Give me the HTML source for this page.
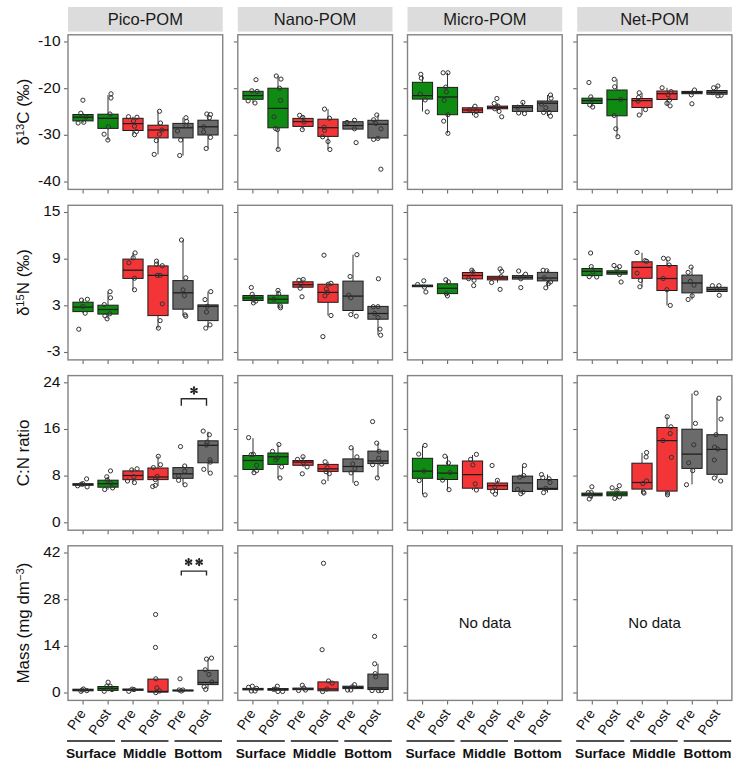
<!DOCTYPE html>
<html><head><meta charset="utf-8"><style>html,body{margin:0;padding:0;background:#fff;width:753px;height:772px;overflow:hidden}</style></head><body>
<svg width="753" height="772" viewBox="0 0 753 772" style="display:block">
<rect x="0" y="0" width="753" height="772" fill="#fff"/>
<rect x="68.0" y="7" width="154.7" height="24.6" fill="#dcdcdc"/>
<text x="145.3" y="25.4" text-anchor="middle" style="font-family:'Liberation Sans',sans-serif;font-size:16.5px" fill="#1a1a1a">Pico-POM</text>
<rect x="237.8" y="7" width="154.7" height="24.6" fill="#dcdcdc"/>
<text x="315.1" y="25.4" text-anchor="middle" style="font-family:'Liberation Sans',sans-serif;font-size:16.5px" fill="#1a1a1a">Nano-POM</text>
<rect x="407.5" y="7" width="154.7" height="24.6" fill="#dcdcdc"/>
<text x="484.9" y="25.4" text-anchor="middle" style="font-family:'Liberation Sans',sans-serif;font-size:16.5px" fill="#1a1a1a">Micro-POM</text>
<rect x="577.2" y="7" width="154.7" height="24.6" fill="#dcdcdc"/>
<text x="654.6" y="25.4" text-anchor="middle" style="font-family:'Liberation Sans',sans-serif;font-size:16.5px" fill="#1a1a1a">Net-POM</text>
<line x1="64.0" y1="42.0" x2="68.0" y2="42.0" stroke="#6a6a6a" stroke-width="1.1"/>
<line x1="64.0" y1="88.7" x2="68.0" y2="88.7" stroke="#6a6a6a" stroke-width="1.1"/>
<line x1="64.0" y1="135.3" x2="68.0" y2="135.3" stroke="#6a6a6a" stroke-width="1.1"/>
<line x1="64.0" y1="182.0" x2="68.0" y2="182.0" stroke="#6a6a6a" stroke-width="1.1"/>
<line x1="83.1" y1="189.4" x2="83.1" y2="193.4" stroke="#6a6a6a" stroke-width="1.1"/>
<line x1="108.1" y1="189.4" x2="108.1" y2="193.4" stroke="#6a6a6a" stroke-width="1.1"/>
<line x1="133.1" y1="189.4" x2="133.1" y2="193.4" stroke="#6a6a6a" stroke-width="1.1"/>
<line x1="158.1" y1="189.4" x2="158.1" y2="193.4" stroke="#6a6a6a" stroke-width="1.1"/>
<line x1="183.1" y1="189.4" x2="183.1" y2="193.4" stroke="#6a6a6a" stroke-width="1.1"/>
<line x1="208.1" y1="189.4" x2="208.1" y2="193.4" stroke="#6a6a6a" stroke-width="1.1"/>
<line x1="233.8" y1="42.0" x2="237.8" y2="42.0" stroke="#6a6a6a" stroke-width="1.1"/>
<line x1="233.8" y1="88.7" x2="237.8" y2="88.7" stroke="#6a6a6a" stroke-width="1.1"/>
<line x1="233.8" y1="135.3" x2="237.8" y2="135.3" stroke="#6a6a6a" stroke-width="1.1"/>
<line x1="233.8" y1="182.0" x2="237.8" y2="182.0" stroke="#6a6a6a" stroke-width="1.1"/>
<line x1="252.9" y1="189.4" x2="252.9" y2="193.4" stroke="#6a6a6a" stroke-width="1.1"/>
<line x1="277.9" y1="189.4" x2="277.9" y2="193.4" stroke="#6a6a6a" stroke-width="1.1"/>
<line x1="302.9" y1="189.4" x2="302.9" y2="193.4" stroke="#6a6a6a" stroke-width="1.1"/>
<line x1="327.9" y1="189.4" x2="327.9" y2="193.4" stroke="#6a6a6a" stroke-width="1.1"/>
<line x1="352.9" y1="189.4" x2="352.9" y2="193.4" stroke="#6a6a6a" stroke-width="1.1"/>
<line x1="377.9" y1="189.4" x2="377.9" y2="193.4" stroke="#6a6a6a" stroke-width="1.1"/>
<line x1="403.5" y1="42.0" x2="407.5" y2="42.0" stroke="#6a6a6a" stroke-width="1.1"/>
<line x1="403.5" y1="88.7" x2="407.5" y2="88.7" stroke="#6a6a6a" stroke-width="1.1"/>
<line x1="403.5" y1="135.3" x2="407.5" y2="135.3" stroke="#6a6a6a" stroke-width="1.1"/>
<line x1="403.5" y1="182.0" x2="407.5" y2="182.0" stroke="#6a6a6a" stroke-width="1.1"/>
<line x1="422.6" y1="189.4" x2="422.6" y2="193.4" stroke="#6a6a6a" stroke-width="1.1"/>
<line x1="447.6" y1="189.4" x2="447.6" y2="193.4" stroke="#6a6a6a" stroke-width="1.1"/>
<line x1="472.6" y1="189.4" x2="472.6" y2="193.4" stroke="#6a6a6a" stroke-width="1.1"/>
<line x1="497.6" y1="189.4" x2="497.6" y2="193.4" stroke="#6a6a6a" stroke-width="1.1"/>
<line x1="522.6" y1="189.4" x2="522.6" y2="193.4" stroke="#6a6a6a" stroke-width="1.1"/>
<line x1="547.6" y1="189.4" x2="547.6" y2="193.4" stroke="#6a6a6a" stroke-width="1.1"/>
<line x1="573.2" y1="42.0" x2="577.2" y2="42.0" stroke="#6a6a6a" stroke-width="1.1"/>
<line x1="573.2" y1="88.7" x2="577.2" y2="88.7" stroke="#6a6a6a" stroke-width="1.1"/>
<line x1="573.2" y1="135.3" x2="577.2" y2="135.3" stroke="#6a6a6a" stroke-width="1.1"/>
<line x1="573.2" y1="182.0" x2="577.2" y2="182.0" stroke="#6a6a6a" stroke-width="1.1"/>
<line x1="592.3" y1="189.4" x2="592.3" y2="193.4" stroke="#6a6a6a" stroke-width="1.1"/>
<line x1="617.3" y1="189.4" x2="617.3" y2="193.4" stroke="#6a6a6a" stroke-width="1.1"/>
<line x1="642.3" y1="189.4" x2="642.3" y2="193.4" stroke="#6a6a6a" stroke-width="1.1"/>
<line x1="667.3" y1="189.4" x2="667.3" y2="193.4" stroke="#6a6a6a" stroke-width="1.1"/>
<line x1="692.3" y1="189.4" x2="692.3" y2="193.4" stroke="#6a6a6a" stroke-width="1.1"/>
<line x1="717.3" y1="189.4" x2="717.3" y2="193.4" stroke="#6a6a6a" stroke-width="1.1"/>
<text x="60.5" y="45.9" text-anchor="end" style="font-family:'Liberation Sans',sans-serif;font-size:15.5px" fill="#111">-10</text>
<text x="60.5" y="92.6" text-anchor="end" style="font-family:'Liberation Sans',sans-serif;font-size:15.5px" fill="#111">-20</text>
<text x="60.5" y="139.2" text-anchor="end" style="font-family:'Liberation Sans',sans-serif;font-size:15.5px" fill="#111">-30</text>
<text x="60.5" y="185.9" text-anchor="end" style="font-family:'Liberation Sans',sans-serif;font-size:15.5px" fill="#111">-40</text>
<line x1="64.0" y1="212.5" x2="68.0" y2="212.5" stroke="#6a6a6a" stroke-width="1.1"/>
<line x1="64.0" y1="259.2" x2="68.0" y2="259.2" stroke="#6a6a6a" stroke-width="1.1"/>
<line x1="64.0" y1="305.8" x2="68.0" y2="305.8" stroke="#6a6a6a" stroke-width="1.1"/>
<line x1="64.0" y1="352.5" x2="68.0" y2="352.5" stroke="#6a6a6a" stroke-width="1.1"/>
<line x1="83.1" y1="359.9" x2="83.1" y2="363.9" stroke="#6a6a6a" stroke-width="1.1"/>
<line x1="108.1" y1="359.9" x2="108.1" y2="363.9" stroke="#6a6a6a" stroke-width="1.1"/>
<line x1="133.1" y1="359.9" x2="133.1" y2="363.9" stroke="#6a6a6a" stroke-width="1.1"/>
<line x1="158.1" y1="359.9" x2="158.1" y2="363.9" stroke="#6a6a6a" stroke-width="1.1"/>
<line x1="183.1" y1="359.9" x2="183.1" y2="363.9" stroke="#6a6a6a" stroke-width="1.1"/>
<line x1="208.1" y1="359.9" x2="208.1" y2="363.9" stroke="#6a6a6a" stroke-width="1.1"/>
<line x1="233.8" y1="212.5" x2="237.8" y2="212.5" stroke="#6a6a6a" stroke-width="1.1"/>
<line x1="233.8" y1="259.2" x2="237.8" y2="259.2" stroke="#6a6a6a" stroke-width="1.1"/>
<line x1="233.8" y1="305.8" x2="237.8" y2="305.8" stroke="#6a6a6a" stroke-width="1.1"/>
<line x1="233.8" y1="352.5" x2="237.8" y2="352.5" stroke="#6a6a6a" stroke-width="1.1"/>
<line x1="252.9" y1="359.9" x2="252.9" y2="363.9" stroke="#6a6a6a" stroke-width="1.1"/>
<line x1="277.9" y1="359.9" x2="277.9" y2="363.9" stroke="#6a6a6a" stroke-width="1.1"/>
<line x1="302.9" y1="359.9" x2="302.9" y2="363.9" stroke="#6a6a6a" stroke-width="1.1"/>
<line x1="327.9" y1="359.9" x2="327.9" y2="363.9" stroke="#6a6a6a" stroke-width="1.1"/>
<line x1="352.9" y1="359.9" x2="352.9" y2="363.9" stroke="#6a6a6a" stroke-width="1.1"/>
<line x1="377.9" y1="359.9" x2="377.9" y2="363.9" stroke="#6a6a6a" stroke-width="1.1"/>
<line x1="403.5" y1="212.5" x2="407.5" y2="212.5" stroke="#6a6a6a" stroke-width="1.1"/>
<line x1="403.5" y1="259.2" x2="407.5" y2="259.2" stroke="#6a6a6a" stroke-width="1.1"/>
<line x1="403.5" y1="305.8" x2="407.5" y2="305.8" stroke="#6a6a6a" stroke-width="1.1"/>
<line x1="403.5" y1="352.5" x2="407.5" y2="352.5" stroke="#6a6a6a" stroke-width="1.1"/>
<line x1="422.6" y1="359.9" x2="422.6" y2="363.9" stroke="#6a6a6a" stroke-width="1.1"/>
<line x1="447.6" y1="359.9" x2="447.6" y2="363.9" stroke="#6a6a6a" stroke-width="1.1"/>
<line x1="472.6" y1="359.9" x2="472.6" y2="363.9" stroke="#6a6a6a" stroke-width="1.1"/>
<line x1="497.6" y1="359.9" x2="497.6" y2="363.9" stroke="#6a6a6a" stroke-width="1.1"/>
<line x1="522.6" y1="359.9" x2="522.6" y2="363.9" stroke="#6a6a6a" stroke-width="1.1"/>
<line x1="547.6" y1="359.9" x2="547.6" y2="363.9" stroke="#6a6a6a" stroke-width="1.1"/>
<line x1="573.2" y1="212.5" x2="577.2" y2="212.5" stroke="#6a6a6a" stroke-width="1.1"/>
<line x1="573.2" y1="259.2" x2="577.2" y2="259.2" stroke="#6a6a6a" stroke-width="1.1"/>
<line x1="573.2" y1="305.8" x2="577.2" y2="305.8" stroke="#6a6a6a" stroke-width="1.1"/>
<line x1="573.2" y1="352.5" x2="577.2" y2="352.5" stroke="#6a6a6a" stroke-width="1.1"/>
<line x1="592.3" y1="359.9" x2="592.3" y2="363.9" stroke="#6a6a6a" stroke-width="1.1"/>
<line x1="617.3" y1="359.9" x2="617.3" y2="363.9" stroke="#6a6a6a" stroke-width="1.1"/>
<line x1="642.3" y1="359.9" x2="642.3" y2="363.9" stroke="#6a6a6a" stroke-width="1.1"/>
<line x1="667.3" y1="359.9" x2="667.3" y2="363.9" stroke="#6a6a6a" stroke-width="1.1"/>
<line x1="692.3" y1="359.9" x2="692.3" y2="363.9" stroke="#6a6a6a" stroke-width="1.1"/>
<line x1="717.3" y1="359.9" x2="717.3" y2="363.9" stroke="#6a6a6a" stroke-width="1.1"/>
<text x="60.5" y="216.4" text-anchor="end" style="font-family:'Liberation Sans',sans-serif;font-size:15.5px" fill="#111">15</text>
<text x="60.5" y="263.1" text-anchor="end" style="font-family:'Liberation Sans',sans-serif;font-size:15.5px" fill="#111">9</text>
<text x="60.5" y="309.7" text-anchor="end" style="font-family:'Liberation Sans',sans-serif;font-size:15.5px" fill="#111">3</text>
<text x="60.5" y="356.4" text-anchor="end" style="font-family:'Liberation Sans',sans-serif;font-size:15.5px" fill="#111">-3</text>
<line x1="64.0" y1="382.8" x2="68.0" y2="382.8" stroke="#6a6a6a" stroke-width="1.1"/>
<line x1="64.0" y1="429.5" x2="68.0" y2="429.5" stroke="#6a6a6a" stroke-width="1.1"/>
<line x1="64.0" y1="476.1" x2="68.0" y2="476.1" stroke="#6a6a6a" stroke-width="1.1"/>
<line x1="64.0" y1="522.8" x2="68.0" y2="522.8" stroke="#6a6a6a" stroke-width="1.1"/>
<line x1="83.1" y1="530.2" x2="83.1" y2="534.2" stroke="#6a6a6a" stroke-width="1.1"/>
<line x1="108.1" y1="530.2" x2="108.1" y2="534.2" stroke="#6a6a6a" stroke-width="1.1"/>
<line x1="133.1" y1="530.2" x2="133.1" y2="534.2" stroke="#6a6a6a" stroke-width="1.1"/>
<line x1="158.1" y1="530.2" x2="158.1" y2="534.2" stroke="#6a6a6a" stroke-width="1.1"/>
<line x1="183.1" y1="530.2" x2="183.1" y2="534.2" stroke="#6a6a6a" stroke-width="1.1"/>
<line x1="208.1" y1="530.2" x2="208.1" y2="534.2" stroke="#6a6a6a" stroke-width="1.1"/>
<line x1="233.8" y1="382.8" x2="237.8" y2="382.8" stroke="#6a6a6a" stroke-width="1.1"/>
<line x1="233.8" y1="429.5" x2="237.8" y2="429.5" stroke="#6a6a6a" stroke-width="1.1"/>
<line x1="233.8" y1="476.1" x2="237.8" y2="476.1" stroke="#6a6a6a" stroke-width="1.1"/>
<line x1="233.8" y1="522.8" x2="237.8" y2="522.8" stroke="#6a6a6a" stroke-width="1.1"/>
<line x1="252.9" y1="530.2" x2="252.9" y2="534.2" stroke="#6a6a6a" stroke-width="1.1"/>
<line x1="277.9" y1="530.2" x2="277.9" y2="534.2" stroke="#6a6a6a" stroke-width="1.1"/>
<line x1="302.9" y1="530.2" x2="302.9" y2="534.2" stroke="#6a6a6a" stroke-width="1.1"/>
<line x1="327.9" y1="530.2" x2="327.9" y2="534.2" stroke="#6a6a6a" stroke-width="1.1"/>
<line x1="352.9" y1="530.2" x2="352.9" y2="534.2" stroke="#6a6a6a" stroke-width="1.1"/>
<line x1="377.9" y1="530.2" x2="377.9" y2="534.2" stroke="#6a6a6a" stroke-width="1.1"/>
<line x1="403.5" y1="382.8" x2="407.5" y2="382.8" stroke="#6a6a6a" stroke-width="1.1"/>
<line x1="403.5" y1="429.5" x2="407.5" y2="429.5" stroke="#6a6a6a" stroke-width="1.1"/>
<line x1="403.5" y1="476.1" x2="407.5" y2="476.1" stroke="#6a6a6a" stroke-width="1.1"/>
<line x1="403.5" y1="522.8" x2="407.5" y2="522.8" stroke="#6a6a6a" stroke-width="1.1"/>
<line x1="422.6" y1="530.2" x2="422.6" y2="534.2" stroke="#6a6a6a" stroke-width="1.1"/>
<line x1="447.6" y1="530.2" x2="447.6" y2="534.2" stroke="#6a6a6a" stroke-width="1.1"/>
<line x1="472.6" y1="530.2" x2="472.6" y2="534.2" stroke="#6a6a6a" stroke-width="1.1"/>
<line x1="497.6" y1="530.2" x2="497.6" y2="534.2" stroke="#6a6a6a" stroke-width="1.1"/>
<line x1="522.6" y1="530.2" x2="522.6" y2="534.2" stroke="#6a6a6a" stroke-width="1.1"/>
<line x1="547.6" y1="530.2" x2="547.6" y2="534.2" stroke="#6a6a6a" stroke-width="1.1"/>
<line x1="573.2" y1="382.8" x2="577.2" y2="382.8" stroke="#6a6a6a" stroke-width="1.1"/>
<line x1="573.2" y1="429.5" x2="577.2" y2="429.5" stroke="#6a6a6a" stroke-width="1.1"/>
<line x1="573.2" y1="476.1" x2="577.2" y2="476.1" stroke="#6a6a6a" stroke-width="1.1"/>
<line x1="573.2" y1="522.8" x2="577.2" y2="522.8" stroke="#6a6a6a" stroke-width="1.1"/>
<line x1="592.3" y1="530.2" x2="592.3" y2="534.2" stroke="#6a6a6a" stroke-width="1.1"/>
<line x1="617.3" y1="530.2" x2="617.3" y2="534.2" stroke="#6a6a6a" stroke-width="1.1"/>
<line x1="642.3" y1="530.2" x2="642.3" y2="534.2" stroke="#6a6a6a" stroke-width="1.1"/>
<line x1="667.3" y1="530.2" x2="667.3" y2="534.2" stroke="#6a6a6a" stroke-width="1.1"/>
<line x1="692.3" y1="530.2" x2="692.3" y2="534.2" stroke="#6a6a6a" stroke-width="1.1"/>
<line x1="717.3" y1="530.2" x2="717.3" y2="534.2" stroke="#6a6a6a" stroke-width="1.1"/>
<text x="60.5" y="386.7" text-anchor="end" style="font-family:'Liberation Sans',sans-serif;font-size:15.5px" fill="#111">24</text>
<text x="60.5" y="433.4" text-anchor="end" style="font-family:'Liberation Sans',sans-serif;font-size:15.5px" fill="#111">16</text>
<text x="60.5" y="480.0" text-anchor="end" style="font-family:'Liberation Sans',sans-serif;font-size:15.5px" fill="#111">8</text>
<text x="60.5" y="526.7" text-anchor="end" style="font-family:'Liberation Sans',sans-serif;font-size:15.5px" fill="#111">0</text>
<line x1="64.0" y1="553.0" x2="68.0" y2="553.0" stroke="#6a6a6a" stroke-width="1.1"/>
<line x1="64.0" y1="599.7" x2="68.0" y2="599.7" stroke="#6a6a6a" stroke-width="1.1"/>
<line x1="64.0" y1="646.3" x2="68.0" y2="646.3" stroke="#6a6a6a" stroke-width="1.1"/>
<line x1="64.0" y1="693.0" x2="68.0" y2="693.0" stroke="#6a6a6a" stroke-width="1.1"/>
<line x1="83.1" y1="700.4" x2="83.1" y2="704.4" stroke="#6a6a6a" stroke-width="1.1"/>
<line x1="108.1" y1="700.4" x2="108.1" y2="704.4" stroke="#6a6a6a" stroke-width="1.1"/>
<line x1="133.1" y1="700.4" x2="133.1" y2="704.4" stroke="#6a6a6a" stroke-width="1.1"/>
<line x1="158.1" y1="700.4" x2="158.1" y2="704.4" stroke="#6a6a6a" stroke-width="1.1"/>
<line x1="183.1" y1="700.4" x2="183.1" y2="704.4" stroke="#6a6a6a" stroke-width="1.1"/>
<line x1="208.1" y1="700.4" x2="208.1" y2="704.4" stroke="#6a6a6a" stroke-width="1.1"/>
<line x1="233.8" y1="553.0" x2="237.8" y2="553.0" stroke="#6a6a6a" stroke-width="1.1"/>
<line x1="233.8" y1="599.7" x2="237.8" y2="599.7" stroke="#6a6a6a" stroke-width="1.1"/>
<line x1="233.8" y1="646.3" x2="237.8" y2="646.3" stroke="#6a6a6a" stroke-width="1.1"/>
<line x1="233.8" y1="693.0" x2="237.8" y2="693.0" stroke="#6a6a6a" stroke-width="1.1"/>
<line x1="252.9" y1="700.4" x2="252.9" y2="704.4" stroke="#6a6a6a" stroke-width="1.1"/>
<line x1="277.9" y1="700.4" x2="277.9" y2="704.4" stroke="#6a6a6a" stroke-width="1.1"/>
<line x1="302.9" y1="700.4" x2="302.9" y2="704.4" stroke="#6a6a6a" stroke-width="1.1"/>
<line x1="327.9" y1="700.4" x2="327.9" y2="704.4" stroke="#6a6a6a" stroke-width="1.1"/>
<line x1="352.9" y1="700.4" x2="352.9" y2="704.4" stroke="#6a6a6a" stroke-width="1.1"/>
<line x1="377.9" y1="700.4" x2="377.9" y2="704.4" stroke="#6a6a6a" stroke-width="1.1"/>
<line x1="403.5" y1="553.0" x2="407.5" y2="553.0" stroke="#6a6a6a" stroke-width="1.1"/>
<line x1="403.5" y1="599.7" x2="407.5" y2="599.7" stroke="#6a6a6a" stroke-width="1.1"/>
<line x1="403.5" y1="646.3" x2="407.5" y2="646.3" stroke="#6a6a6a" stroke-width="1.1"/>
<line x1="403.5" y1="693.0" x2="407.5" y2="693.0" stroke="#6a6a6a" stroke-width="1.1"/>
<line x1="422.6" y1="700.4" x2="422.6" y2="704.4" stroke="#6a6a6a" stroke-width="1.1"/>
<line x1="447.6" y1="700.4" x2="447.6" y2="704.4" stroke="#6a6a6a" stroke-width="1.1"/>
<line x1="472.6" y1="700.4" x2="472.6" y2="704.4" stroke="#6a6a6a" stroke-width="1.1"/>
<line x1="497.6" y1="700.4" x2="497.6" y2="704.4" stroke="#6a6a6a" stroke-width="1.1"/>
<line x1="522.6" y1="700.4" x2="522.6" y2="704.4" stroke="#6a6a6a" stroke-width="1.1"/>
<line x1="547.6" y1="700.4" x2="547.6" y2="704.4" stroke="#6a6a6a" stroke-width="1.1"/>
<line x1="573.2" y1="553.0" x2="577.2" y2="553.0" stroke="#6a6a6a" stroke-width="1.1"/>
<line x1="573.2" y1="599.7" x2="577.2" y2="599.7" stroke="#6a6a6a" stroke-width="1.1"/>
<line x1="573.2" y1="646.3" x2="577.2" y2="646.3" stroke="#6a6a6a" stroke-width="1.1"/>
<line x1="573.2" y1="693.0" x2="577.2" y2="693.0" stroke="#6a6a6a" stroke-width="1.1"/>
<line x1="592.3" y1="700.4" x2="592.3" y2="704.4" stroke="#6a6a6a" stroke-width="1.1"/>
<line x1="617.3" y1="700.4" x2="617.3" y2="704.4" stroke="#6a6a6a" stroke-width="1.1"/>
<line x1="642.3" y1="700.4" x2="642.3" y2="704.4" stroke="#6a6a6a" stroke-width="1.1"/>
<line x1="667.3" y1="700.4" x2="667.3" y2="704.4" stroke="#6a6a6a" stroke-width="1.1"/>
<line x1="692.3" y1="700.4" x2="692.3" y2="704.4" stroke="#6a6a6a" stroke-width="1.1"/>
<line x1="717.3" y1="700.4" x2="717.3" y2="704.4" stroke="#6a6a6a" stroke-width="1.1"/>
<text x="60.5" y="556.9" text-anchor="end" style="font-family:'Liberation Sans',sans-serif;font-size:15.5px" fill="#111">42</text>
<text x="60.5" y="603.6" text-anchor="end" style="font-family:'Liberation Sans',sans-serif;font-size:15.5px" fill="#111">28</text>
<text x="60.5" y="650.2" text-anchor="end" style="font-family:'Liberation Sans',sans-serif;font-size:15.5px" fill="#111">14</text>
<text x="60.5" y="696.9" text-anchor="end" style="font-family:'Liberation Sans',sans-serif;font-size:15.5px" fill="#111">0</text>
<line x1="83" y1="113.2" x2="83" y2="114.5" stroke="#333" stroke-width="1"/>
<line x1="83" y1="120.9" x2="83" y2="123" stroke="#333" stroke-width="1"/>
<rect x="72.9" y="114.5" width="20.2" height="6.4" fill="#0f8a12" stroke="#1c1c1c" stroke-width="1"/>
<line x1="72.9" y1="117.2" x2="93.1" y2="117.2" stroke="#1c1c1c" stroke-width="1.25"/>
<circle cx="82.9" cy="100.2" r="2.1" fill="none" stroke="#333" stroke-width="1"/>
<circle cx="80.8" cy="113.2" r="2.1" fill="none" stroke="#333" stroke-width="1"/>
<circle cx="78.1" cy="123" r="2.1" fill="none" stroke="#333" stroke-width="1"/>
<circle cx="83.7" cy="122.3" r="2.1" fill="none" stroke="#333" stroke-width="1"/>
<circle cx="86" cy="117" r="2.1" fill="none" stroke="#333" stroke-width="1"/>
<line x1="108" y1="95" x2="108" y2="114.2" stroke="#333" stroke-width="1"/>
<line x1="108" y1="128.4" x2="108" y2="140" stroke="#333" stroke-width="1"/>
<rect x="97.9" y="114.2" width="20.2" height="14.2" fill="#0f8a12" stroke="#1c1c1c" stroke-width="1"/>
<line x1="97.9" y1="118.3" x2="118.1" y2="118.3" stroke="#1c1c1c" stroke-width="1.25"/>
<circle cx="111" cy="93.8" r="2.1" fill="none" stroke="#333" stroke-width="1"/>
<circle cx="111" cy="98" r="2.1" fill="none" stroke="#333" stroke-width="1"/>
<circle cx="104.1" cy="134.2" r="2.1" fill="none" stroke="#333" stroke-width="1"/>
<circle cx="107.9" cy="140" r="2.1" fill="none" stroke="#333" stroke-width="1"/>
<circle cx="110" cy="114" r="2.1" fill="none" stroke="#333" stroke-width="1"/>
<circle cx="108.4" cy="126.8" r="2.1" fill="none" stroke="#333" stroke-width="1"/>
<line x1="133" y1="116.7" x2="133" y2="118.3" stroke="#333" stroke-width="1"/>
<line x1="133" y1="130.5" x2="133" y2="134.7" stroke="#333" stroke-width="1"/>
<rect x="122.9" y="118.3" width="20.2" height="12.2" fill="#f43538" stroke="#1c1c1c" stroke-width="1"/>
<line x1="122.9" y1="123.6" x2="143.1" y2="123.6" stroke="#1c1c1c" stroke-width="1.25"/>
<circle cx="128.5" cy="116.7" r="2.1" fill="none" stroke="#333" stroke-width="1"/>
<circle cx="137" cy="117.2" r="2.1" fill="none" stroke="#333" stroke-width="1"/>
<circle cx="134.5" cy="126.2" r="2.1" fill="none" stroke="#333" stroke-width="1"/>
<circle cx="136.5" cy="131.5" r="2.1" fill="none" stroke="#333" stroke-width="1"/>
<circle cx="134.5" cy="134.7" r="2.1" fill="none" stroke="#333" stroke-width="1"/>
<circle cx="133.5" cy="121" r="2.1" fill="none" stroke="#333" stroke-width="1"/>
<line x1="158" y1="111.3" x2="158" y2="125.2" stroke="#333" stroke-width="1"/>
<line x1="158" y1="137.9" x2="158" y2="154.4" stroke="#333" stroke-width="1"/>
<rect x="147.9" y="125.2" width="20.2" height="12.7" fill="#f43538" stroke="#1c1c1c" stroke-width="1"/>
<line x1="147.9" y1="130" x2="168.1" y2="130" stroke="#1c1c1c" stroke-width="1.25"/>
<circle cx="159.5" cy="111.3" r="2.1" fill="none" stroke="#333" stroke-width="1"/>
<circle cx="160.5" cy="123" r="2.1" fill="none" stroke="#333" stroke-width="1"/>
<circle cx="156.3" cy="140.6" r="2.1" fill="none" stroke="#333" stroke-width="1"/>
<circle cx="154.2" cy="154.4" r="2.1" fill="none" stroke="#333" stroke-width="1"/>
<circle cx="162" cy="130" r="2.1" fill="none" stroke="#333" stroke-width="1"/>
<circle cx="159.5" cy="134.2" r="2.1" fill="none" stroke="#333" stroke-width="1"/>
<line x1="183" y1="117.7" x2="183" y2="123.4" stroke="#333" stroke-width="1"/>
<line x1="183" y1="137.9" x2="183" y2="155.5" stroke="#333" stroke-width="1"/>
<rect x="172.9" y="123.4" width="20.2" height="14.5" fill="#6b6b6b" stroke="#1c1c1c" stroke-width="1"/>
<line x1="172.9" y1="127.8" x2="193.1" y2="127.8" stroke="#1c1c1c" stroke-width="1.25"/>
<circle cx="186" cy="117.7" r="2.1" fill="none" stroke="#333" stroke-width="1"/>
<circle cx="186.6" cy="121.4" r="2.1" fill="none" stroke="#333" stroke-width="1"/>
<circle cx="177.5" cy="131" r="2.1" fill="none" stroke="#333" stroke-width="1"/>
<circle cx="180.7" cy="140" r="2.1" fill="none" stroke="#333" stroke-width="1"/>
<circle cx="179.7" cy="155.5" r="2.1" fill="none" stroke="#333" stroke-width="1"/>
<circle cx="186" cy="125.7" r="2.1" fill="none" stroke="#333" stroke-width="1"/>
<line x1="208" y1="114" x2="208" y2="120.2" stroke="#333" stroke-width="1"/>
<line x1="208" y1="135" x2="208" y2="148.5" stroke="#333" stroke-width="1"/>
<rect x="197.9" y="120.2" width="20.2" height="14.8" fill="#6b6b6b" stroke="#1c1c1c" stroke-width="1"/>
<line x1="197.9" y1="126.8" x2="218.1" y2="126.8" stroke="#1c1c1c" stroke-width="1.25"/>
<circle cx="206.8" cy="114" r="2.1" fill="none" stroke="#333" stroke-width="1"/>
<circle cx="210.5" cy="114.5" r="2.1" fill="none" stroke="#333" stroke-width="1"/>
<circle cx="210.5" cy="137.4" r="2.1" fill="none" stroke="#333" stroke-width="1"/>
<circle cx="206.2" cy="148.5" r="2.1" fill="none" stroke="#333" stroke-width="1"/>
<circle cx="203.6" cy="126.8" r="2.1" fill="none" stroke="#333" stroke-width="1"/>
<circle cx="203.6" cy="132" r="2.1" fill="none" stroke="#333" stroke-width="1"/>
<circle cx="209.4" cy="117.7" r="2.1" fill="none" stroke="#333" stroke-width="1"/>
<line x1="253" y1="90.8" x2="253" y2="91.3" stroke="#333" stroke-width="1"/>
<line x1="253" y1="99.3" x2="253" y2="103" stroke="#333" stroke-width="1"/>
<rect x="242.9" y="91.3" width="20.2" height="8.0" fill="#0f8a12" stroke="#1c1c1c" stroke-width="1"/>
<line x1="242.9" y1="95.6" x2="263.1" y2="95.6" stroke="#1c1c1c" stroke-width="1.25"/>
<circle cx="256" cy="79.7" r="2.1" fill="none" stroke="#333" stroke-width="1"/>
<circle cx="251.8" cy="90.8" r="2.1" fill="none" stroke="#333" stroke-width="1"/>
<circle cx="248.1" cy="100.9" r="2.1" fill="none" stroke="#333" stroke-width="1"/>
<circle cx="255" cy="103" r="2.1" fill="none" stroke="#333" stroke-width="1"/>
<circle cx="257.1" cy="91.4" r="2.1" fill="none" stroke="#333" stroke-width="1"/>
<line x1="278" y1="76" x2="278" y2="88.2" stroke="#333" stroke-width="1"/>
<line x1="278" y1="127.8" x2="278" y2="149.4" stroke="#333" stroke-width="1"/>
<rect x="267.9" y="88.2" width="20.2" height="39.6" fill="#0f8a12" stroke="#1c1c1c" stroke-width="1"/>
<line x1="267.9" y1="108.4" x2="288.1" y2="108.4" stroke="#1c1c1c" stroke-width="1.25"/>
<circle cx="276.3" cy="76" r="2.1" fill="none" stroke="#333" stroke-width="1"/>
<circle cx="281" cy="79.1" r="2.1" fill="none" stroke="#333" stroke-width="1"/>
<circle cx="279.5" cy="88.2" r="2.1" fill="none" stroke="#333" stroke-width="1"/>
<circle cx="280.5" cy="100.4" r="2.1" fill="none" stroke="#333" stroke-width="1"/>
<circle cx="274" cy="116.9" r="2.1" fill="none" stroke="#333" stroke-width="1"/>
<circle cx="275.5" cy="128.5" r="2.1" fill="none" stroke="#333" stroke-width="1"/>
<circle cx="277.5" cy="129.6" r="2.1" fill="none" stroke="#333" stroke-width="1"/>
<circle cx="278.2" cy="149.4" r="2.1" fill="none" stroke="#333" stroke-width="1"/>
<line x1="303" y1="115.3" x2="303" y2="118.4" stroke="#333" stroke-width="1"/>
<line x1="303" y1="126.4" x2="303" y2="129.6" stroke="#333" stroke-width="1"/>
<rect x="292.9" y="118.4" width="20.2" height="8.0" fill="#f43538" stroke="#1c1c1c" stroke-width="1"/>
<line x1="292.9" y1="121.6" x2="313.1" y2="121.6" stroke="#1c1c1c" stroke-width="1.25"/>
<circle cx="299.6" cy="115.3" r="2.1" fill="none" stroke="#333" stroke-width="1"/>
<circle cx="302.8" cy="117.4" r="2.1" fill="none" stroke="#333" stroke-width="1"/>
<circle cx="302.3" cy="129.6" r="2.1" fill="none" stroke="#333" stroke-width="1"/>
<circle cx="304" cy="122" r="2.1" fill="none" stroke="#333" stroke-width="1"/>
<line x1="328" y1="109.1" x2="328" y2="119.2" stroke="#333" stroke-width="1"/>
<line x1="328" y1="136.4" x2="328" y2="149.5" stroke="#333" stroke-width="1"/>
<rect x="317.9" y="119.2" width="20.2" height="17.2" fill="#f43538" stroke="#1c1c1c" stroke-width="1"/>
<line x1="317.9" y1="127.7" x2="338.1" y2="127.7" stroke="#1c1c1c" stroke-width="1.25"/>
<circle cx="324.5" cy="109.1" r="2.1" fill="none" stroke="#333" stroke-width="1"/>
<circle cx="329.5" cy="118.2" r="2.1" fill="none" stroke="#333" stroke-width="1"/>
<circle cx="324.2" cy="127.2" r="2.1" fill="none" stroke="#333" stroke-width="1"/>
<circle cx="324.5" cy="130.4" r="2.1" fill="none" stroke="#333" stroke-width="1"/>
<circle cx="322.6" cy="136.8" r="2.1" fill="none" stroke="#333" stroke-width="1"/>
<circle cx="328" cy="141.5" r="2.1" fill="none" stroke="#333" stroke-width="1"/>
<circle cx="329.9" cy="149.5" r="2.1" fill="none" stroke="#333" stroke-width="1"/>
<line x1="353" y1="120.3" x2="353" y2="121.7" stroke="#333" stroke-width="1"/>
<rect x="342.9" y="121.7" width="20.2" height="7.4" fill="#6b6b6b" stroke="#1c1c1c" stroke-width="1"/>
<line x1="342.9" y1="125.6" x2="363.1" y2="125.6" stroke="#1c1c1c" stroke-width="1.25"/>
<circle cx="347" cy="122.4" r="2.1" fill="none" stroke="#333" stroke-width="1"/>
<circle cx="354.5" cy="120.3" r="2.1" fill="none" stroke="#333" stroke-width="1"/>
<circle cx="354.5" cy="128.8" r="2.1" fill="none" stroke="#333" stroke-width="1"/>
<circle cx="356.1" cy="142.6" r="2.1" fill="none" stroke="#333" stroke-width="1"/>
<line x1="378" y1="115" x2="378" y2="120.3" stroke="#333" stroke-width="1"/>
<line x1="378" y1="138" x2="378" y2="139.4" stroke="#333" stroke-width="1"/>
<rect x="367.9" y="120.3" width="20.2" height="17.7" fill="#6b6b6b" stroke="#1c1c1c" stroke-width="1"/>
<line x1="367.9" y1="124.2" x2="388.1" y2="124.2" stroke="#1c1c1c" stroke-width="1.25"/>
<circle cx="376.8" cy="115" r="2.1" fill="none" stroke="#333" stroke-width="1"/>
<circle cx="373.6" cy="119.8" r="2.1" fill="none" stroke="#333" stroke-width="1"/>
<circle cx="375.8" cy="123.5" r="2.1" fill="none" stroke="#333" stroke-width="1"/>
<circle cx="381" cy="128.8" r="2.1" fill="none" stroke="#333" stroke-width="1"/>
<circle cx="373.6" cy="139.4" r="2.1" fill="none" stroke="#333" stroke-width="1"/>
<circle cx="377.9" cy="138.4" r="2.1" fill="none" stroke="#333" stroke-width="1"/>
<circle cx="380.9" cy="169.2" r="2.1" fill="none" stroke="#333" stroke-width="1"/>
<line x1="422.5" y1="76" x2="422.5" y2="82.3" stroke="#333" stroke-width="1"/>
<line x1="422.5" y1="99.1" x2="422.5" y2="111.5" stroke="#333" stroke-width="1"/>
<rect x="412.4" y="82.3" width="20.2" height="16.8" fill="#0f8a12" stroke="#1c1c1c" stroke-width="1"/>
<line x1="412.4" y1="95.6" x2="432.6" y2="95.6" stroke="#1c1c1c" stroke-width="1.25"/>
<circle cx="420.8" cy="74.3" r="2.1" fill="none" stroke="#333" stroke-width="1"/>
<circle cx="421.3" cy="78.1" r="2.1" fill="none" stroke="#333" stroke-width="1"/>
<circle cx="420.3" cy="94" r="2.1" fill="none" stroke="#333" stroke-width="1"/>
<circle cx="425.1" cy="99.9" r="2.1" fill="none" stroke="#333" stroke-width="1"/>
<circle cx="427.2" cy="111.9" r="2.1" fill="none" stroke="#333" stroke-width="1"/>
<line x1="447.5" y1="72.8" x2="447.5" y2="87.4" stroke="#333" stroke-width="1"/>
<line x1="447.5" y1="114.7" x2="447.5" y2="133.3" stroke="#333" stroke-width="1"/>
<rect x="437.4" y="87.4" width="20.2" height="27.3" fill="#0f8a12" stroke="#1c1c1c" stroke-width="1"/>
<line x1="437.4" y1="97" x2="457.6" y2="97" stroke="#1c1c1c" stroke-width="1.25"/>
<circle cx="443.1" cy="72.8" r="2.1" fill="none" stroke="#333" stroke-width="1"/>
<circle cx="447.9" cy="72.8" r="2.1" fill="none" stroke="#333" stroke-width="1"/>
<circle cx="445.8" cy="87.1" r="2.1" fill="none" stroke="#333" stroke-width="1"/>
<circle cx="446.3" cy="91.9" r="2.1" fill="none" stroke="#333" stroke-width="1"/>
<circle cx="444.2" cy="100.4" r="2.1" fill="none" stroke="#333" stroke-width="1"/>
<circle cx="447.9" cy="114.7" r="2.1" fill="none" stroke="#333" stroke-width="1"/>
<circle cx="443.7" cy="121.1" r="2.1" fill="none" stroke="#333" stroke-width="1"/>
<circle cx="447.9" cy="133.3" r="2.1" fill="none" stroke="#333" stroke-width="1"/>
<line x1="472.5" y1="106.2" x2="472.5" y2="107.8" stroke="#333" stroke-width="1"/>
<line x1="472.5" y1="112.6" x2="472.5" y2="115.3" stroke="#333" stroke-width="1"/>
<rect x="462.4" y="107.8" width="20.2" height="4.8" fill="#f43538" stroke="#1c1c1c" stroke-width="1"/>
<line x1="462.4" y1="110" x2="482.6" y2="110" stroke="#1c1c1c" stroke-width="1.25"/>
<circle cx="475" cy="106.2" r="2.1" fill="none" stroke="#333" stroke-width="1"/>
<circle cx="476.6" cy="111" r="2.1" fill="none" stroke="#333" stroke-width="1"/>
<circle cx="476.1" cy="115.3" r="2.1" fill="none" stroke="#333" stroke-width="1"/>
<circle cx="469.7" cy="110" r="2.1" fill="none" stroke="#333" stroke-width="1"/>
<line x1="497.5" y1="103.5" x2="497.5" y2="106.1" stroke="#333" stroke-width="1"/>
<line x1="497.5" y1="108.8" x2="497.5" y2="111.4" stroke="#333" stroke-width="1"/>
<rect x="487.4" y="106.1" width="20.2" height="2.7" fill="#f43538" stroke="#1c1c1c" stroke-width="1"/>
<line x1="487.4" y1="107.5" x2="507.6" y2="107.5" stroke="#1c1c1c" stroke-width="1.25"/>
<circle cx="496.9" cy="98.5" r="2.1" fill="none" stroke="#333" stroke-width="1"/>
<circle cx="494.2" cy="103.5" r="2.1" fill="none" stroke="#333" stroke-width="1"/>
<circle cx="494.8" cy="108.8" r="2.1" fill="none" stroke="#333" stroke-width="1"/>
<circle cx="499" cy="111.4" r="2.1" fill="none" stroke="#333" stroke-width="1"/>
<circle cx="501.7" cy="116.8" r="2.1" fill="none" stroke="#333" stroke-width="1"/>
<circle cx="498" cy="106.1" r="2.1" fill="none" stroke="#333" stroke-width="1"/>
<line x1="522.5" y1="102.4" x2="522.5" y2="105.6" stroke="#333" stroke-width="1"/>
<line x1="522.5" y1="111.4" x2="522.5" y2="113.6" stroke="#333" stroke-width="1"/>
<rect x="512.4" y="105.6" width="20.2" height="5.8" fill="#6b6b6b" stroke="#1c1c1c" stroke-width="1"/>
<line x1="512.4" y1="107.4" x2="532.6" y2="107.4" stroke="#1c1c1c" stroke-width="1.25"/>
<circle cx="522.9" cy="102.4" r="2.1" fill="none" stroke="#333" stroke-width="1"/>
<circle cx="518.7" cy="113" r="2.1" fill="none" stroke="#333" stroke-width="1"/>
<circle cx="524.5" cy="113.6" r="2.1" fill="none" stroke="#333" stroke-width="1"/>
<circle cx="517.6" cy="107.2" r="2.1" fill="none" stroke="#333" stroke-width="1"/>
<line x1="547.5" y1="95" x2="547.5" y2="101" stroke="#333" stroke-width="1"/>
<line x1="547.5" y1="111.4" x2="547.5" y2="116.2" stroke="#333" stroke-width="1"/>
<rect x="537.4" y="101.0" width="20.2" height="10.4" fill="#6b6b6b" stroke="#1c1c1c" stroke-width="1"/>
<line x1="537.4" y1="103.2" x2="557.6" y2="103.2" stroke="#1c1c1c" stroke-width="1.25"/>
<circle cx="550.5" cy="95" r="2.1" fill="none" stroke="#333" stroke-width="1"/>
<circle cx="551.1" cy="98.2" r="2.1" fill="none" stroke="#333" stroke-width="1"/>
<circle cx="543.6" cy="112.5" r="2.1" fill="none" stroke="#333" stroke-width="1"/>
<circle cx="549" cy="112.5" r="2.1" fill="none" stroke="#333" stroke-width="1"/>
<circle cx="550.5" cy="116.2" r="2.1" fill="none" stroke="#333" stroke-width="1"/>
<circle cx="541.5" cy="104" r="2.1" fill="none" stroke="#333" stroke-width="1"/>
<circle cx="545.8" cy="107.7" r="2.1" fill="none" stroke="#333" stroke-width="1"/>
<line x1="592" y1="96.9" x2="592" y2="98.2" stroke="#333" stroke-width="1"/>
<line x1="592" y1="103.5" x2="592" y2="107" stroke="#333" stroke-width="1"/>
<rect x="581.9" y="98.2" width="20.2" height="5.3" fill="#0f8a12" stroke="#1c1c1c" stroke-width="1"/>
<line x1="581.9" y1="100.6" x2="602.1" y2="100.6" stroke="#1c1c1c" stroke-width="1.25"/>
<circle cx="588.9" cy="82.5" r="2.1" fill="none" stroke="#333" stroke-width="1"/>
<circle cx="590.8" cy="96.9" r="2.1" fill="none" stroke="#333" stroke-width="1"/>
<circle cx="589.8" cy="104.9" r="2.1" fill="none" stroke="#333" stroke-width="1"/>
<circle cx="592.7" cy="107" r="2.1" fill="none" stroke="#333" stroke-width="1"/>
<circle cx="591.9" cy="100.1" r="2.1" fill="none" stroke="#333" stroke-width="1"/>
<line x1="617" y1="79.3" x2="617" y2="90" stroke="#333" stroke-width="1"/>
<line x1="617" y1="115.8" x2="617" y2="136.7" stroke="#333" stroke-width="1"/>
<rect x="606.9" y="90.0" width="20.2" height="25.8" fill="#0f8a12" stroke="#1c1c1c" stroke-width="1"/>
<line x1="606.9" y1="99.5" x2="627.1" y2="99.5" stroke="#1c1c1c" stroke-width="1.25"/>
<circle cx="614.2" cy="79.3" r="2.1" fill="none" stroke="#333" stroke-width="1"/>
<circle cx="614.7" cy="86.8" r="2.1" fill="none" stroke="#333" stroke-width="1"/>
<circle cx="620.6" cy="99.5" r="2.1" fill="none" stroke="#333" stroke-width="1"/>
<circle cx="614.2" cy="115.5" r="2.1" fill="none" stroke="#333" stroke-width="1"/>
<circle cx="615.8" cy="128.8" r="2.1" fill="none" stroke="#333" stroke-width="1"/>
<circle cx="617.9" cy="136.7" r="2.1" fill="none" stroke="#333" stroke-width="1"/>
<line x1="642" y1="92.8" x2="642" y2="98.5" stroke="#333" stroke-width="1"/>
<line x1="642" y1="107.5" x2="642" y2="115" stroke="#333" stroke-width="1"/>
<rect x="631.9" y="98.5" width="20.2" height="9.0" fill="#f43538" stroke="#1c1c1c" stroke-width="1"/>
<line x1="631.9" y1="100.6" x2="652.1" y2="100.6" stroke="#1c1c1c" stroke-width="1.25"/>
<circle cx="639.2" cy="92.8" r="2.1" fill="none" stroke="#333" stroke-width="1"/>
<circle cx="638.6" cy="97.4" r="2.1" fill="none" stroke="#333" stroke-width="1"/>
<circle cx="638.1" cy="101.1" r="2.1" fill="none" stroke="#333" stroke-width="1"/>
<circle cx="645.5" cy="109.6" r="2.1" fill="none" stroke="#333" stroke-width="1"/>
<circle cx="639.2" cy="115" r="2.1" fill="none" stroke="#333" stroke-width="1"/>
<line x1="667" y1="87.8" x2="667" y2="91" stroke="#333" stroke-width="1"/>
<line x1="667" y1="99.5" x2="667" y2="105.9" stroke="#333" stroke-width="1"/>
<rect x="656.9" y="91.0" width="20.2" height="8.5" fill="#f43538" stroke="#1c1c1c" stroke-width="1"/>
<line x1="656.9" y1="93.7" x2="677.1" y2="93.7" stroke="#1c1c1c" stroke-width="1.25"/>
<circle cx="662.1" cy="87.8" r="2.1" fill="none" stroke="#333" stroke-width="1"/>
<circle cx="671.1" cy="91.6" r="2.1" fill="none" stroke="#333" stroke-width="1"/>
<circle cx="668" cy="94.8" r="2.1" fill="none" stroke="#333" stroke-width="1"/>
<circle cx="666.9" cy="103.3" r="2.1" fill="none" stroke="#333" stroke-width="1"/>
<circle cx="670.1" cy="105.9" r="2.1" fill="none" stroke="#333" stroke-width="1"/>
<circle cx="669.5" cy="100.1" r="2.1" fill="none" stroke="#333" stroke-width="1"/>
<line x1="692" y1="90" x2="692" y2="91.4" stroke="#333" stroke-width="1"/>
<line x1="692" y1="93.7" x2="692" y2="94.8" stroke="#333" stroke-width="1"/>
<rect x="681.9" y="91.4" width="20.2" height="2.3" fill="#6b6b6b" stroke="#1c1c1c" stroke-width="1"/>
<line x1="681.9" y1="92.5" x2="702.1" y2="92.5" stroke="#1c1c1c" stroke-width="1.25"/>
<circle cx="694.5" cy="90" r="2.1" fill="none" stroke="#333" stroke-width="1"/>
<circle cx="691.3" cy="94.8" r="2.1" fill="none" stroke="#333" stroke-width="1"/>
<circle cx="691.9" cy="103.8" r="2.1" fill="none" stroke="#333" stroke-width="1"/>
<line x1="717" y1="86" x2="717" y2="90.5" stroke="#333" stroke-width="1"/>
<line x1="717" y1="94.2" x2="717" y2="95.8" stroke="#333" stroke-width="1"/>
<rect x="706.9" y="90.5" width="20.2" height="3.7" fill="#6b6b6b" stroke="#1c1c1c" stroke-width="1"/>
<line x1="706.9" y1="92.4" x2="727.1" y2="92.4" stroke="#1c1c1c" stroke-width="1.25"/>
<circle cx="717.9" cy="86" r="2.1" fill="none" stroke="#333" stroke-width="1"/>
<circle cx="713.6" cy="87.8" r="2.1" fill="none" stroke="#333" stroke-width="1"/>
<circle cx="717.9" cy="95.8" r="2.1" fill="none" stroke="#333" stroke-width="1"/>
<circle cx="721.1" cy="95.3" r="2.1" fill="none" stroke="#333" stroke-width="1"/>
<circle cx="712.6" cy="92.6" r="2.1" fill="none" stroke="#333" stroke-width="1"/>
<line x1="83" y1="299.3" x2="83" y2="302.2" stroke="#333" stroke-width="1"/>
<line x1="83" y1="311.6" x2="83" y2="313.2" stroke="#333" stroke-width="1"/>
<rect x="72.9" y="302.2" width="20.2" height="9.4" fill="#0f8a12" stroke="#1c1c1c" stroke-width="1"/>
<line x1="72.9" y1="307.1" x2="93.1" y2="307.1" stroke="#1c1c1c" stroke-width="1.25"/>
<circle cx="81.5" cy="300.1" r="2.1" fill="none" stroke="#333" stroke-width="1"/>
<circle cx="87.4" cy="299.3" r="2.1" fill="none" stroke="#333" stroke-width="1"/>
<circle cx="85.2" cy="313.2" r="2.1" fill="none" stroke="#333" stroke-width="1"/>
<circle cx="78.8" cy="329.2" r="2.1" fill="none" stroke="#333" stroke-width="1"/>
<circle cx="82.8" cy="306.5" r="2.1" fill="none" stroke="#333" stroke-width="1"/>
<line x1="108" y1="291.7" x2="108" y2="305.2" stroke="#333" stroke-width="1"/>
<line x1="108" y1="314.1" x2="108" y2="318.8" stroke="#333" stroke-width="1"/>
<rect x="97.9" y="305.2" width="20.2" height="8.9" fill="#0f8a12" stroke="#1c1c1c" stroke-width="1"/>
<line x1="97.9" y1="309.5" x2="118.1" y2="309.5" stroke="#1c1c1c" stroke-width="1.25"/>
<circle cx="110.1" cy="291.7" r="2.1" fill="none" stroke="#333" stroke-width="1"/>
<circle cx="110.5" cy="297.8" r="2.1" fill="none" stroke="#333" stroke-width="1"/>
<circle cx="104.3" cy="304.6" r="2.1" fill="none" stroke="#333" stroke-width="1"/>
<circle cx="104.9" cy="315.7" r="2.1" fill="none" stroke="#333" stroke-width="1"/>
<circle cx="107.1" cy="318.8" r="2.1" fill="none" stroke="#333" stroke-width="1"/>
<circle cx="109.8" cy="313.8" r="2.1" fill="none" stroke="#333" stroke-width="1"/>
<line x1="133" y1="252.9" x2="133" y2="259.1" stroke="#333" stroke-width="1"/>
<line x1="133" y1="278.4" x2="133" y2="289.8" stroke="#333" stroke-width="1"/>
<rect x="122.9" y="259.1" width="20.2" height="19.3" fill="#f43538" stroke="#1c1c1c" stroke-width="1"/>
<line x1="122.9" y1="270.2" x2="143.1" y2="270.2" stroke="#1c1c1c" stroke-width="1.25"/>
<circle cx="135.1" cy="252.9" r="2.1" fill="none" stroke="#333" stroke-width="1"/>
<circle cx="133.2" cy="257.8" r="2.1" fill="none" stroke="#333" stroke-width="1"/>
<circle cx="128.9" cy="262.8" r="2.1" fill="none" stroke="#333" stroke-width="1"/>
<circle cx="134.5" cy="278.2" r="2.1" fill="none" stroke="#333" stroke-width="1"/>
<circle cx="134.5" cy="289.8" r="2.1" fill="none" stroke="#333" stroke-width="1"/>
<line x1="158" y1="260.7" x2="158" y2="265.9" stroke="#333" stroke-width="1"/>
<line x1="158" y1="315.6" x2="158" y2="328.4" stroke="#333" stroke-width="1"/>
<rect x="147.9" y="265.9" width="20.2" height="49.7" fill="#f43538" stroke="#1c1c1c" stroke-width="1"/>
<line x1="147.9" y1="275.4" x2="168.1" y2="275.4" stroke="#1c1c1c" stroke-width="1.25"/>
<circle cx="156.5" cy="261.1" r="2.1" fill="none" stroke="#333" stroke-width="1"/>
<circle cx="156.5" cy="264.2" r="2.1" fill="none" stroke="#333" stroke-width="1"/>
<circle cx="162.3" cy="265.7" r="2.1" fill="none" stroke="#333" stroke-width="1"/>
<circle cx="160.1" cy="275.4" r="2.1" fill="none" stroke="#333" stroke-width="1"/>
<circle cx="157.3" cy="275.4" r="2.1" fill="none" stroke="#333" stroke-width="1"/>
<circle cx="162.3" cy="303.9" r="2.1" fill="none" stroke="#333" stroke-width="1"/>
<circle cx="160.1" cy="320.6" r="2.1" fill="none" stroke="#333" stroke-width="1"/>
<circle cx="158.4" cy="328.1" r="2.1" fill="none" stroke="#333" stroke-width="1"/>
<line x1="183" y1="240" x2="183" y2="280.6" stroke="#333" stroke-width="1"/>
<line x1="183" y1="309.2" x2="183" y2="315.6" stroke="#333" stroke-width="1"/>
<rect x="172.9" y="280.6" width="20.2" height="28.6" fill="#6b6b6b" stroke="#1c1c1c" stroke-width="1"/>
<line x1="172.9" y1="292.8" x2="193.1" y2="292.8" stroke="#1c1c1c" stroke-width="1.25"/>
<circle cx="181.5" cy="240" r="2.1" fill="none" stroke="#333" stroke-width="1"/>
<circle cx="185.8" cy="277.8" r="2.1" fill="none" stroke="#333" stroke-width="1"/>
<circle cx="183" cy="289.9" r="2.1" fill="none" stroke="#333" stroke-width="1"/>
<circle cx="184.4" cy="295.6" r="2.1" fill="none" stroke="#333" stroke-width="1"/>
<circle cx="185.1" cy="314.9" r="2.1" fill="none" stroke="#333" stroke-width="1"/>
<circle cx="185.8" cy="316.3" r="2.1" fill="none" stroke="#333" stroke-width="1"/>
<line x1="208" y1="291.6" x2="208" y2="304.9" stroke="#333" stroke-width="1"/>
<line x1="208" y1="320.6" x2="208" y2="327.7" stroke="#333" stroke-width="1"/>
<rect x="197.9" y="304.9" width="20.2" height="15.7" fill="#6b6b6b" stroke="#1c1c1c" stroke-width="1"/>
<line x1="197.9" y1="306.3" x2="218.1" y2="306.3" stroke="#1c1c1c" stroke-width="1.25"/>
<circle cx="210.8" cy="291.6" r="2.1" fill="none" stroke="#333" stroke-width="1"/>
<circle cx="205" cy="299.6" r="2.1" fill="none" stroke="#333" stroke-width="1"/>
<circle cx="207.2" cy="306.3" r="2.1" fill="none" stroke="#333" stroke-width="1"/>
<circle cx="206.5" cy="312" r="2.1" fill="none" stroke="#333" stroke-width="1"/>
<circle cx="210" cy="324.9" r="2.1" fill="none" stroke="#333" stroke-width="1"/>
<circle cx="205.8" cy="328.1" r="2.1" fill="none" stroke="#333" stroke-width="1"/>
<line x1="253" y1="294.3" x2="253" y2="295.5" stroke="#333" stroke-width="1"/>
<line x1="253" y1="300.5" x2="253" y2="302.9" stroke="#333" stroke-width="1"/>
<rect x="242.9" y="295.5" width="20.2" height="5.0" fill="#0f8a12" stroke="#1c1c1c" stroke-width="1"/>
<line x1="242.9" y1="298" x2="263.1" y2="298" stroke="#1c1c1c" stroke-width="1.25"/>
<circle cx="251.3" cy="287.5" r="2.1" fill="none" stroke="#333" stroke-width="1"/>
<circle cx="252.2" cy="294.3" r="2.1" fill="none" stroke="#333" stroke-width="1"/>
<circle cx="253.4" cy="302.9" r="2.1" fill="none" stroke="#333" stroke-width="1"/>
<circle cx="255.8" cy="301.1" r="2.1" fill="none" stroke="#333" stroke-width="1"/>
<circle cx="252.8" cy="298" r="2.1" fill="none" stroke="#333" stroke-width="1"/>
<line x1="278" y1="290.4" x2="278" y2="295.3" stroke="#333" stroke-width="1"/>
<line x1="278" y1="303.2" x2="278" y2="307.8" stroke="#333" stroke-width="1"/>
<rect x="267.9" y="295.3" width="20.2" height="7.9" fill="#0f8a12" stroke="#1c1c1c" stroke-width="1"/>
<line x1="267.9" y1="299.2" x2="288.1" y2="299.2" stroke="#1c1c1c" stroke-width="1.25"/>
<circle cx="278" cy="290.4" r="2.1" fill="none" stroke="#333" stroke-width="1"/>
<circle cx="278.6" cy="293.7" r="2.1" fill="none" stroke="#333" stroke-width="1"/>
<circle cx="280.5" cy="306" r="2.1" fill="none" stroke="#333" stroke-width="1"/>
<circle cx="280.5" cy="307.8" r="2.1" fill="none" stroke="#333" stroke-width="1"/>
<circle cx="273.7" cy="299.2" r="2.1" fill="none" stroke="#333" stroke-width="1"/>
<line x1="303" y1="279.5" x2="303" y2="281.8" stroke="#333" stroke-width="1"/>
<line x1="303" y1="287.2" x2="303" y2="288.2" stroke="#333" stroke-width="1"/>
<rect x="292.9" y="281.8" width="20.2" height="5.4" fill="#f43538" stroke="#1c1c1c" stroke-width="1"/>
<line x1="292.9" y1="284.7" x2="313.1" y2="284.7" stroke="#1c1c1c" stroke-width="1.25"/>
<circle cx="298.9" cy="280.2" r="2.1" fill="none" stroke="#333" stroke-width="1"/>
<circle cx="303.2" cy="279.5" r="2.1" fill="none" stroke="#333" stroke-width="1"/>
<circle cx="300.2" cy="288.2" r="2.1" fill="none" stroke="#333" stroke-width="1"/>
<circle cx="302" cy="296.8" r="2.1" fill="none" stroke="#333" stroke-width="1"/>
<circle cx="300.8" cy="283.8" r="2.1" fill="none" stroke="#333" stroke-width="1"/>
<line x1="328" y1="283.3" x2="328" y2="284.2" stroke="#333" stroke-width="1"/>
<line x1="328" y1="302.3" x2="328" y2="315.5" stroke="#333" stroke-width="1"/>
<rect x="317.9" y="284.2" width="20.2" height="18.1" fill="#f43538" stroke="#1c1c1c" stroke-width="1"/>
<line x1="317.9" y1="292.4" x2="338.1" y2="292.4" stroke="#1c1c1c" stroke-width="1.25"/>
<circle cx="324" cy="255.2" r="2.1" fill="none" stroke="#333" stroke-width="1"/>
<circle cx="328.3" cy="284.2" r="2.1" fill="none" stroke="#333" stroke-width="1"/>
<circle cx="331" cy="283.3" r="2.1" fill="none" stroke="#333" stroke-width="1"/>
<circle cx="326.3" cy="289" r="2.1" fill="none" stroke="#333" stroke-width="1"/>
<circle cx="327.6" cy="292.4" r="2.1" fill="none" stroke="#333" stroke-width="1"/>
<circle cx="324.9" cy="295.8" r="2.1" fill="none" stroke="#333" stroke-width="1"/>
<circle cx="331" cy="315.5" r="2.1" fill="none" stroke="#333" stroke-width="1"/>
<circle cx="322.9" cy="336.6" r="2.1" fill="none" stroke="#333" stroke-width="1"/>
<line x1="353" y1="254.7" x2="353" y2="281.1" stroke="#333" stroke-width="1"/>
<line x1="353" y1="310.5" x2="353" y2="313.5" stroke="#333" stroke-width="1"/>
<rect x="342.9" y="281.1" width="20.2" height="29.4" fill="#6b6b6b" stroke="#1c1c1c" stroke-width="1"/>
<line x1="342.9" y1="296.1" x2="363.1" y2="296.1" stroke="#1c1c1c" stroke-width="1.25"/>
<circle cx="356.9" cy="254.7" r="2.1" fill="none" stroke="#333" stroke-width="1"/>
<circle cx="350.1" cy="276.5" r="2.1" fill="none" stroke="#333" stroke-width="1"/>
<circle cx="348.7" cy="295.1" r="2.1" fill="none" stroke="#333" stroke-width="1"/>
<circle cx="350.8" cy="297.8" r="2.1" fill="none" stroke="#333" stroke-width="1"/>
<circle cx="350.8" cy="314.6" r="2.1" fill="none" stroke="#333" stroke-width="1"/>
<circle cx="356.2" cy="316.2" r="2.1" fill="none" stroke="#333" stroke-width="1"/>
<line x1="378" y1="319.2" x2="378" y2="335.2" stroke="#333" stroke-width="1"/>
<rect x="367.9" y="306.4" width="20.2" height="12.8" fill="#6b6b6b" stroke="#1c1c1c" stroke-width="1"/>
<line x1="367.9" y1="313.5" x2="388.1" y2="313.5" stroke="#1c1c1c" stroke-width="1.25"/>
<circle cx="378.4" cy="278.8" r="2.1" fill="none" stroke="#333" stroke-width="1"/>
<circle cx="373.2" cy="306.7" r="2.1" fill="none" stroke="#333" stroke-width="1"/>
<circle cx="378" cy="306.7" r="2.1" fill="none" stroke="#333" stroke-width="1"/>
<circle cx="374.6" cy="313.5" r="2.1" fill="none" stroke="#333" stroke-width="1"/>
<circle cx="378" cy="317.6" r="2.1" fill="none" stroke="#333" stroke-width="1"/>
<circle cx="380" cy="329.1" r="2.1" fill="none" stroke="#333" stroke-width="1"/>
<circle cx="380.7" cy="335.2" r="2.1" fill="none" stroke="#333" stroke-width="1"/>
<line x1="422.5" y1="284.5" x2="422.5" y2="285.1" stroke="#333" stroke-width="1"/>
<line x1="422.5" y1="286.7" x2="422.5" y2="287.2" stroke="#333" stroke-width="1"/>
<rect x="412.4" y="285.1" width="20.2" height="1.6" fill="#0f8a12" stroke="#1c1c1c" stroke-width="1"/>
<line x1="412.4" y1="285.9" x2="432.6" y2="285.9" stroke="#1c1c1c" stroke-width="1.25"/>
<circle cx="423.8" cy="280.8" r="2.1" fill="none" stroke="#333" stroke-width="1"/>
<circle cx="425.9" cy="292" r="2.1" fill="none" stroke="#333" stroke-width="1"/>
<circle cx="417.6" cy="284.5" r="2.1" fill="none" stroke="#333" stroke-width="1"/>
<circle cx="424.5" cy="287.2" r="2.1" fill="none" stroke="#333" stroke-width="1"/>
<line x1="447.5" y1="279.8" x2="447.5" y2="283.8" stroke="#333" stroke-width="1"/>
<line x1="447.5" y1="293.6" x2="447.5" y2="295.9" stroke="#333" stroke-width="1"/>
<rect x="437.4" y="283.8" width="20.2" height="9.8" fill="#0f8a12" stroke="#1c1c1c" stroke-width="1"/>
<line x1="437.4" y1="288.3" x2="457.6" y2="288.3" stroke="#1c1c1c" stroke-width="1.25"/>
<circle cx="445.8" cy="279.8" r="2.1" fill="none" stroke="#333" stroke-width="1"/>
<circle cx="448.4" cy="281.9" r="2.1" fill="none" stroke="#333" stroke-width="1"/>
<circle cx="446.3" cy="293.6" r="2.1" fill="none" stroke="#333" stroke-width="1"/>
<circle cx="447.4" cy="295.9" r="2.1" fill="none" stroke="#333" stroke-width="1"/>
<line x1="472.5" y1="270.2" x2="472.5" y2="272.5" stroke="#333" stroke-width="1"/>
<line x1="472.5" y1="278.9" x2="472.5" y2="280.3" stroke="#333" stroke-width="1"/>
<rect x="462.4" y="272.5" width="20.2" height="6.4" fill="#f43538" stroke="#1c1c1c" stroke-width="1"/>
<line x1="462.4" y1="275.5" x2="482.6" y2="275.5" stroke="#1c1c1c" stroke-width="1.25"/>
<circle cx="471.8" cy="270.2" r="2.1" fill="none" stroke="#333" stroke-width="1"/>
<circle cx="472.9" cy="271.8" r="2.1" fill="none" stroke="#333" stroke-width="1"/>
<circle cx="474" cy="280.3" r="2.1" fill="none" stroke="#333" stroke-width="1"/>
<circle cx="473.7" cy="285.6" r="2.1" fill="none" stroke="#333" stroke-width="1"/>
<circle cx="468.6" cy="278.7" r="2.1" fill="none" stroke="#333" stroke-width="1"/>
<line x1="497.5" y1="279.9" x2="497.5" y2="282.5" stroke="#333" stroke-width="1"/>
<rect x="487.4" y="276.3" width="20.2" height="3.6" fill="#f43538" stroke="#1c1c1c" stroke-width="1"/>
<line x1="487.4" y1="278" x2="507.6" y2="278" stroke="#1c1c1c" stroke-width="1.25"/>
<circle cx="500.1" cy="268.9" r="2.1" fill="none" stroke="#333" stroke-width="1"/>
<circle cx="501.7" cy="271.3" r="2.1" fill="none" stroke="#333" stroke-width="1"/>
<circle cx="491.6" cy="282.5" r="2.1" fill="none" stroke="#333" stroke-width="1"/>
<circle cx="500.1" cy="289.4" r="2.1" fill="none" stroke="#333" stroke-width="1"/>
<circle cx="501.1" cy="276.7" r="2.1" fill="none" stroke="#333" stroke-width="1"/>
<line x1="522.5" y1="274.2" x2="522.5" y2="275.6" stroke="#333" stroke-width="1"/>
<rect x="512.4" y="275.6" width="20.2" height="3.5" fill="#6b6b6b" stroke="#1c1c1c" stroke-width="1"/>
<line x1="512.4" y1="277.3" x2="532.6" y2="277.3" stroke="#1c1c1c" stroke-width="1.25"/>
<circle cx="518.7" cy="271" r="2.1" fill="none" stroke="#333" stroke-width="1"/>
<circle cx="525.6" cy="274.2" r="2.1" fill="none" stroke="#333" stroke-width="1"/>
<circle cx="520.8" cy="287.6" r="2.1" fill="none" stroke="#333" stroke-width="1"/>
<circle cx="520.8" cy="278.8" r="2.1" fill="none" stroke="#333" stroke-width="1"/>
<line x1="547.5" y1="270.3" x2="547.5" y2="272.4" stroke="#333" stroke-width="1"/>
<line x1="547.5" y1="280.9" x2="547.5" y2="287.8" stroke="#333" stroke-width="1"/>
<rect x="537.4" y="272.4" width="20.2" height="8.5" fill="#6b6b6b" stroke="#1c1c1c" stroke-width="1"/>
<line x1="537.4" y1="278" x2="557.6" y2="278" stroke="#1c1c1c" stroke-width="1.25"/>
<circle cx="543.1" cy="270.3" r="2.1" fill="none" stroke="#333" stroke-width="1"/>
<circle cx="546.8" cy="270.8" r="2.1" fill="none" stroke="#333" stroke-width="1"/>
<circle cx="544.2" cy="277.7" r="2.1" fill="none" stroke="#333" stroke-width="1"/>
<circle cx="548.4" cy="283.6" r="2.1" fill="none" stroke="#333" stroke-width="1"/>
<circle cx="550.5" cy="282" r="2.1" fill="none" stroke="#333" stroke-width="1"/>
<circle cx="545.8" cy="287.8" r="2.1" fill="none" stroke="#333" stroke-width="1"/>
<line x1="592" y1="266.6" x2="592" y2="268.5" stroke="#333" stroke-width="1"/>
<line x1="592" y1="275.6" x2="592" y2="277" stroke="#333" stroke-width="1"/>
<rect x="581.9" y="268.5" width="20.2" height="7.1" fill="#0f8a12" stroke="#1c1c1c" stroke-width="1"/>
<line x1="581.9" y1="271.3" x2="602.1" y2="271.3" stroke="#1c1c1c" stroke-width="1.25"/>
<circle cx="590.6" cy="253" r="2.1" fill="none" stroke="#333" stroke-width="1"/>
<circle cx="591.3" cy="266.6" r="2.1" fill="none" stroke="#333" stroke-width="1"/>
<circle cx="589.2" cy="276.7" r="2.1" fill="none" stroke="#333" stroke-width="1"/>
<circle cx="596.7" cy="277" r="2.1" fill="none" stroke="#333" stroke-width="1"/>
<circle cx="593" cy="271.9" r="2.1" fill="none" stroke="#333" stroke-width="1"/>
<line x1="617" y1="268.7" x2="617" y2="270.8" stroke="#333" stroke-width="1"/>
<line x1="617" y1="274.2" x2="617" y2="274.5" stroke="#333" stroke-width="1"/>
<rect x="606.9" y="270.8" width="20.2" height="3.4" fill="#0f8a12" stroke="#1c1c1c" stroke-width="1"/>
<line x1="606.9" y1="272.5" x2="627.1" y2="272.5" stroke="#1c1c1c" stroke-width="1.25"/>
<circle cx="614" cy="265.5" r="2.1" fill="none" stroke="#333" stroke-width="1"/>
<circle cx="619.5" cy="266.6" r="2.1" fill="none" stroke="#333" stroke-width="1"/>
<circle cx="616.9" cy="268.7" r="2.1" fill="none" stroke="#333" stroke-width="1"/>
<circle cx="621.1" cy="282" r="2.1" fill="none" stroke="#333" stroke-width="1"/>
<circle cx="619.5" cy="274.5" r="2.1" fill="none" stroke="#333" stroke-width="1"/>
<line x1="642" y1="252.8" x2="642" y2="261.8" stroke="#333" stroke-width="1"/>
<line x1="642" y1="278.3" x2="642" y2="286.8" stroke="#333" stroke-width="1"/>
<rect x="631.9" y="261.8" width="20.2" height="16.5" fill="#f43538" stroke="#1c1c1c" stroke-width="1"/>
<line x1="631.9" y1="267.4" x2="652.1" y2="267.4" stroke="#1c1c1c" stroke-width="1.25"/>
<circle cx="637" cy="252.5" r="2.1" fill="none" stroke="#333" stroke-width="1"/>
<circle cx="645" cy="260.7" r="2.1" fill="none" stroke="#333" stroke-width="1"/>
<circle cx="646.6" cy="261.3" r="2.1" fill="none" stroke="#333" stroke-width="1"/>
<circle cx="637" cy="273.2" r="2.1" fill="none" stroke="#333" stroke-width="1"/>
<circle cx="640.5" cy="280.4" r="2.1" fill="none" stroke="#333" stroke-width="1"/>
<circle cx="639.9" cy="286.8" r="2.1" fill="none" stroke="#333" stroke-width="1"/>
<line x1="667" y1="259.7" x2="667" y2="265.5" stroke="#333" stroke-width="1"/>
<line x1="667" y1="290.5" x2="667" y2="305.4" stroke="#333" stroke-width="1"/>
<rect x="656.9" y="265.5" width="20.2" height="25.0" fill="#f43538" stroke="#1c1c1c" stroke-width="1"/>
<line x1="656.9" y1="278.5" x2="677.1" y2="278.5" stroke="#1c1c1c" stroke-width="1.25"/>
<circle cx="663.5" cy="258.3" r="2.1" fill="none" stroke="#333" stroke-width="1"/>
<circle cx="668.2" cy="258.9" r="2.1" fill="none" stroke="#333" stroke-width="1"/>
<circle cx="669.2" cy="265" r="2.1" fill="none" stroke="#333" stroke-width="1"/>
<circle cx="663.2" cy="278.5" r="2.1" fill="none" stroke="#333" stroke-width="1"/>
<circle cx="666.9" cy="289.7" r="2.1" fill="none" stroke="#333" stroke-width="1"/>
<circle cx="670.3" cy="305.4" r="2.1" fill="none" stroke="#333" stroke-width="1"/>
<line x1="692" y1="267.1" x2="692" y2="275.1" stroke="#333" stroke-width="1"/>
<line x1="692" y1="292.9" x2="692" y2="299.5" stroke="#333" stroke-width="1"/>
<rect x="681.9" y="275.1" width="20.2" height="17.8" fill="#6b6b6b" stroke="#1c1c1c" stroke-width="1"/>
<line x1="681.9" y1="283" x2="702.1" y2="283" stroke="#1c1c1c" stroke-width="1.25"/>
<circle cx="691.1" cy="267.1" r="2.1" fill="none" stroke="#333" stroke-width="1"/>
<circle cx="688.1" cy="272.4" r="2.1" fill="none" stroke="#333" stroke-width="1"/>
<circle cx="690.3" cy="281.4" r="2.1" fill="none" stroke="#333" stroke-width="1"/>
<circle cx="694" cy="285.2" r="2.1" fill="none" stroke="#333" stroke-width="1"/>
<circle cx="692.2" cy="295.8" r="2.1" fill="none" stroke="#333" stroke-width="1"/>
<circle cx="688.1" cy="299.5" r="2.1" fill="none" stroke="#333" stroke-width="1"/>
<line x1="717" y1="285.7" x2="717" y2="287.3" stroke="#333" stroke-width="1"/>
<rect x="706.9" y="287.3" width="20.2" height="4.2" fill="#6b6b6b" stroke="#1c1c1c" stroke-width="1"/>
<line x1="706.9" y1="289.5" x2="727.1" y2="289.5" stroke="#1c1c1c" stroke-width="1.25"/>
<circle cx="712.4" cy="285.7" r="2.1" fill="none" stroke="#333" stroke-width="1"/>
<circle cx="719" cy="285.7" r="2.1" fill="none" stroke="#333" stroke-width="1"/>
<circle cx="719.2" cy="295.3" r="2.1" fill="none" stroke="#333" stroke-width="1"/>
<circle cx="716.8" cy="289.4" r="2.1" fill="none" stroke="#333" stroke-width="1"/>
<line x1="83" y1="485.3" x2="83" y2="486.9" stroke="#333" stroke-width="1"/>
<rect x="72.9" y="483.7" width="20.2" height="1.6" fill="#0f8a12" stroke="#1c1c1c" stroke-width="1"/>
<line x1="72.9" y1="484.5" x2="93.1" y2="484.5" stroke="#1c1c1c" stroke-width="1.25"/>
<circle cx="86.6" cy="478.9" r="2.1" fill="none" stroke="#333" stroke-width="1"/>
<circle cx="77.6" cy="485.8" r="2.1" fill="none" stroke="#333" stroke-width="1"/>
<circle cx="87.1" cy="486.9" r="2.1" fill="none" stroke="#333" stroke-width="1"/>
<circle cx="82.9" cy="483.7" r="2.1" fill="none" stroke="#333" stroke-width="1"/>
<circle cx="81.3" cy="484.2" r="2.1" fill="none" stroke="#333" stroke-width="1"/>
<line x1="108" y1="476.8" x2="108" y2="480.2" stroke="#333" stroke-width="1"/>
<line x1="108" y1="487.2" x2="108" y2="489.5" stroke="#333" stroke-width="1"/>
<rect x="97.9" y="480.2" width="20.2" height="7.0" fill="#0f8a12" stroke="#1c1c1c" stroke-width="1"/>
<line x1="97.9" y1="483.7" x2="118.1" y2="483.7" stroke="#1c1c1c" stroke-width="1.25"/>
<circle cx="110.5" cy="470.9" r="2.1" fill="none" stroke="#333" stroke-width="1"/>
<circle cx="106.8" cy="476.8" r="2.1" fill="none" stroke="#333" stroke-width="1"/>
<circle cx="107.3" cy="480" r="2.1" fill="none" stroke="#333" stroke-width="1"/>
<circle cx="104.7" cy="489.5" r="2.1" fill="none" stroke="#333" stroke-width="1"/>
<circle cx="112.6" cy="487.9" r="2.1" fill="none" stroke="#333" stroke-width="1"/>
<circle cx="110.5" cy="483.1" r="2.1" fill="none" stroke="#333" stroke-width="1"/>
<line x1="133" y1="468.8" x2="133" y2="470.9" stroke="#333" stroke-width="1"/>
<line x1="133" y1="479.7" x2="133" y2="482.6" stroke="#333" stroke-width="1"/>
<rect x="122.9" y="470.9" width="20.2" height="8.8" fill="#f43538" stroke="#1c1c1c" stroke-width="1"/>
<line x1="122.9" y1="475.5" x2="143.1" y2="475.5" stroke="#1c1c1c" stroke-width="1.25"/>
<circle cx="131.8" cy="469.9" r="2.1" fill="none" stroke="#333" stroke-width="1"/>
<circle cx="137.1" cy="468.8" r="2.1" fill="none" stroke="#333" stroke-width="1"/>
<circle cx="127.5" cy="481" r="2.1" fill="none" stroke="#333" stroke-width="1"/>
<circle cx="134.4" cy="482.6" r="2.1" fill="none" stroke="#333" stroke-width="1"/>
<circle cx="133.9" cy="476.8" r="2.1" fill="none" stroke="#333" stroke-width="1"/>
<line x1="158" y1="456.3" x2="158" y2="468" stroke="#333" stroke-width="1"/>
<line x1="158" y1="479.6" x2="158" y2="486.1" stroke="#333" stroke-width="1"/>
<rect x="147.9" y="468.0" width="20.2" height="11.6" fill="#f43538" stroke="#1c1c1c" stroke-width="1"/>
<line x1="147.9" y1="477" x2="168.1" y2="477" stroke="#1c1c1c" stroke-width="1.25"/>
<circle cx="158.3" cy="456.3" r="2.1" fill="none" stroke="#333" stroke-width="1"/>
<circle cx="160.5" cy="464.7" r="2.1" fill="none" stroke="#333" stroke-width="1"/>
<circle cx="153.4" cy="467.6" r="2.1" fill="none" stroke="#333" stroke-width="1"/>
<circle cx="157.2" cy="476.4" r="2.1" fill="none" stroke="#333" stroke-width="1"/>
<circle cx="155.3" cy="479.6" r="2.1" fill="none" stroke="#333" stroke-width="1"/>
<circle cx="152.7" cy="486.5" r="2.1" fill="none" stroke="#333" stroke-width="1"/>
<circle cx="155.3" cy="485.4" r="2.1" fill="none" stroke="#333" stroke-width="1"/>
<line x1="183" y1="466" x2="183" y2="467.6" stroke="#333" stroke-width="1"/>
<line x1="183" y1="478.3" x2="183" y2="484.8" stroke="#333" stroke-width="1"/>
<rect x="172.9" y="467.6" width="20.2" height="10.7" fill="#6b6b6b" stroke="#1c1c1c" stroke-width="1"/>
<line x1="172.9" y1="473.8" x2="193.1" y2="473.8" stroke="#1c1c1c" stroke-width="1.25"/>
<circle cx="180.5" cy="446.6" r="2.1" fill="none" stroke="#333" stroke-width="1"/>
<circle cx="184.7" cy="466" r="2.1" fill="none" stroke="#333" stroke-width="1"/>
<circle cx="184.7" cy="471.2" r="2.1" fill="none" stroke="#333" stroke-width="1"/>
<circle cx="178.6" cy="475.7" r="2.1" fill="none" stroke="#333" stroke-width="1"/>
<circle cx="178.6" cy="480.3" r="2.1" fill="none" stroke="#333" stroke-width="1"/>
<circle cx="185.1" cy="484.8" r="2.1" fill="none" stroke="#333" stroke-width="1"/>
<line x1="208" y1="431.7" x2="208" y2="440.8" stroke="#333" stroke-width="1"/>
<line x1="208" y1="462.8" x2="208" y2="472.5" stroke="#333" stroke-width="1"/>
<rect x="197.9" y="440.8" width="20.2" height="22.0" fill="#6b6b6b" stroke="#1c1c1c" stroke-width="1"/>
<line x1="197.9" y1="445.3" x2="218.1" y2="445.3" stroke="#1c1c1c" stroke-width="1.25"/>
<circle cx="203.2" cy="431.1" r="2.1" fill="none" stroke="#333" stroke-width="1"/>
<circle cx="209.3" cy="434.7" r="2.1" fill="none" stroke="#333" stroke-width="1"/>
<circle cx="207.1" cy="442.1" r="2.1" fill="none" stroke="#333" stroke-width="1"/>
<circle cx="206.4" cy="445" r="2.1" fill="none" stroke="#333" stroke-width="1"/>
<circle cx="210" cy="459.8" r="2.1" fill="none" stroke="#333" stroke-width="1"/>
<circle cx="210.3" cy="462.1" r="2.1" fill="none" stroke="#333" stroke-width="1"/>
<circle cx="203.8" cy="469.3" r="2.1" fill="none" stroke="#333" stroke-width="1"/>
<circle cx="210.3" cy="473.1" r="2.1" fill="none" stroke="#333" stroke-width="1"/>
<line x1="253" y1="438.2" x2="253" y2="455.5" stroke="#333" stroke-width="1"/>
<line x1="253" y1="469.5" x2="253" y2="472.7" stroke="#333" stroke-width="1"/>
<rect x="242.9" y="455.5" width="20.2" height="14.0" fill="#0f8a12" stroke="#1c1c1c" stroke-width="1"/>
<line x1="242.9" y1="460.5" x2="263.1" y2="460.5" stroke="#1c1c1c" stroke-width="1.25"/>
<circle cx="248.6" cy="437.6" r="2.1" fill="none" stroke="#333" stroke-width="1"/>
<circle cx="251.3" cy="454.6" r="2.1" fill="none" stroke="#333" stroke-width="1"/>
<circle cx="253.4" cy="454.4" r="2.1" fill="none" stroke="#333" stroke-width="1"/>
<circle cx="256.6" cy="465.3" r="2.1" fill="none" stroke="#333" stroke-width="1"/>
<circle cx="256.6" cy="470.6" r="2.1" fill="none" stroke="#333" stroke-width="1"/>
<circle cx="254" cy="472.7" r="2.1" fill="none" stroke="#333" stroke-width="1"/>
<line x1="278" y1="444.5" x2="278" y2="453" stroke="#333" stroke-width="1"/>
<line x1="278" y1="464.4" x2="278" y2="478" stroke="#333" stroke-width="1"/>
<rect x="267.9" y="453.0" width="20.2" height="11.4" fill="#0f8a12" stroke="#1c1c1c" stroke-width="1"/>
<line x1="267.9" y1="456.8" x2="288.1" y2="456.8" stroke="#1c1c1c" stroke-width="1.25"/>
<circle cx="278.9" cy="444.5" r="2.1" fill="none" stroke="#333" stroke-width="1"/>
<circle cx="272.5" cy="451.4" r="2.1" fill="none" stroke="#333" stroke-width="1"/>
<circle cx="277.3" cy="457.8" r="2.1" fill="none" stroke="#333" stroke-width="1"/>
<circle cx="281.6" cy="466.9" r="2.1" fill="none" stroke="#333" stroke-width="1"/>
<circle cx="280" cy="478" r="2.1" fill="none" stroke="#333" stroke-width="1"/>
<circle cx="275.7" cy="460" r="2.1" fill="none" stroke="#333" stroke-width="1"/>
<line x1="303" y1="456.8" x2="303" y2="460.5" stroke="#333" stroke-width="1"/>
<line x1="303" y1="465.3" x2="303" y2="466.9" stroke="#333" stroke-width="1"/>
<rect x="292.9" y="460.5" width="20.2" height="4.8" fill="#f43538" stroke="#1c1c1c" stroke-width="1"/>
<line x1="292.9" y1="462.1" x2="313.1" y2="462.1" stroke="#1c1c1c" stroke-width="1.25"/>
<circle cx="297.5" cy="459.4" r="2.1" fill="none" stroke="#333" stroke-width="1"/>
<circle cx="303" cy="456.8" r="2.1" fill="none" stroke="#333" stroke-width="1"/>
<circle cx="307.1" cy="466.9" r="2.1" fill="none" stroke="#333" stroke-width="1"/>
<circle cx="302.3" cy="473.8" r="2.1" fill="none" stroke="#333" stroke-width="1"/>
<circle cx="303.4" cy="462.6" r="2.1" fill="none" stroke="#333" stroke-width="1"/>
<line x1="328" y1="461.8" x2="328" y2="464.4" stroke="#333" stroke-width="1"/>
<line x1="328" y1="471.4" x2="328" y2="481" stroke="#333" stroke-width="1"/>
<rect x="317.9" y="464.4" width="20.2" height="7.0" fill="#f43538" stroke="#1c1c1c" stroke-width="1"/>
<line x1="317.9" y1="468.8" x2="338.1" y2="468.8" stroke="#1c1c1c" stroke-width="1.25"/>
<circle cx="325.1" cy="461.8" r="2.1" fill="none" stroke="#333" stroke-width="1"/>
<circle cx="329.3" cy="473.7" r="2.1" fill="none" stroke="#333" stroke-width="1"/>
<circle cx="323.7" cy="481.9" r="2.1" fill="none" stroke="#333" stroke-width="1"/>
<circle cx="327.2" cy="467.6" r="2.1" fill="none" stroke="#333" stroke-width="1"/>
<circle cx="326" cy="471.7" r="2.1" fill="none" stroke="#333" stroke-width="1"/>
<line x1="353" y1="447.8" x2="353" y2="458.9" stroke="#333" stroke-width="1"/>
<line x1="353" y1="471.7" x2="353" y2="482.8" stroke="#333" stroke-width="1"/>
<rect x="342.9" y="458.9" width="20.2" height="12.8" fill="#6b6b6b" stroke="#1c1c1c" stroke-width="1"/>
<line x1="342.9" y1="466.5" x2="363.1" y2="466.5" stroke="#1c1c1c" stroke-width="1.25"/>
<circle cx="351.1" cy="447.8" r="2.1" fill="none" stroke="#333" stroke-width="1"/>
<circle cx="356.9" cy="456.9" r="2.1" fill="none" stroke="#333" stroke-width="1"/>
<circle cx="352.8" cy="463.9" r="2.1" fill="none" stroke="#333" stroke-width="1"/>
<circle cx="354.9" cy="468.8" r="2.1" fill="none" stroke="#333" stroke-width="1"/>
<circle cx="351.1" cy="472.9" r="2.1" fill="none" stroke="#333" stroke-width="1"/>
<circle cx="356.3" cy="483.4" r="2.1" fill="none" stroke="#333" stroke-width="1"/>
<line x1="378" y1="443.1" x2="378" y2="451.1" stroke="#333" stroke-width="1"/>
<line x1="378" y1="463.6" x2="378" y2="477.6" stroke="#333" stroke-width="1"/>
<rect x="367.9" y="451.1" width="20.2" height="12.5" fill="#6b6b6b" stroke="#1c1c1c" stroke-width="1"/>
<line x1="367.9" y1="460.9" x2="388.1" y2="460.9" stroke="#1c1c1c" stroke-width="1.25"/>
<circle cx="372.6" cy="421.6" r="2.1" fill="none" stroke="#333" stroke-width="1"/>
<circle cx="376.7" cy="443.1" r="2.1" fill="none" stroke="#333" stroke-width="1"/>
<circle cx="379.1" cy="451.3" r="2.1" fill="none" stroke="#333" stroke-width="1"/>
<circle cx="378.7" cy="458.3" r="2.1" fill="none" stroke="#333" stroke-width="1"/>
<circle cx="372.6" cy="464.7" r="2.1" fill="none" stroke="#333" stroke-width="1"/>
<circle cx="381.7" cy="464.1" r="2.1" fill="none" stroke="#333" stroke-width="1"/>
<circle cx="377.3" cy="477.9" r="2.1" fill="none" stroke="#333" stroke-width="1"/>
<line x1="422.5" y1="445.7" x2="422.5" y2="458.3" stroke="#333" stroke-width="1"/>
<line x1="422.5" y1="478.3" x2="422.5" y2="494.6" stroke="#333" stroke-width="1"/>
<rect x="412.4" y="458.3" width="20.2" height="20.0" fill="#0f8a12" stroke="#1c1c1c" stroke-width="1"/>
<line x1="412.4" y1="471.1" x2="432.6" y2="471.1" stroke="#1c1c1c" stroke-width="1.25"/>
<circle cx="425.1" cy="445.4" r="2.1" fill="none" stroke="#333" stroke-width="1"/>
<circle cx="418.7" cy="454.1" r="2.1" fill="none" stroke="#333" stroke-width="1"/>
<circle cx="423.9" cy="471.1" r="2.1" fill="none" stroke="#333" stroke-width="1"/>
<circle cx="419.2" cy="480.6" r="2.1" fill="none" stroke="#333" stroke-width="1"/>
<circle cx="425.1" cy="494.9" r="2.1" fill="none" stroke="#333" stroke-width="1"/>
<line x1="447.5" y1="456.2" x2="447.5" y2="465.2" stroke="#333" stroke-width="1"/>
<line x1="447.5" y1="479.5" x2="447.5" y2="489.7" stroke="#333" stroke-width="1"/>
<rect x="437.4" y="465.2" width="20.2" height="14.3" fill="#0f8a12" stroke="#1c1c1c" stroke-width="1"/>
<line x1="437.4" y1="473.1" x2="457.6" y2="473.1" stroke="#1c1c1c" stroke-width="1.25"/>
<circle cx="444.9" cy="456.2" r="2.1" fill="none" stroke="#333" stroke-width="1"/>
<circle cx="448.4" cy="462.9" r="2.1" fill="none" stroke="#333" stroke-width="1"/>
<circle cx="450.1" cy="472.5" r="2.1" fill="none" stroke="#333" stroke-width="1"/>
<circle cx="442.6" cy="480.1" r="2.1" fill="none" stroke="#333" stroke-width="1"/>
<circle cx="449" cy="489.7" r="2.1" fill="none" stroke="#333" stroke-width="1"/>
<line x1="472.5" y1="455" x2="472.5" y2="461" stroke="#333" stroke-width="1"/>
<line x1="472.5" y1="488.2" x2="472.5" y2="490" stroke="#333" stroke-width="1"/>
<rect x="462.4" y="461.0" width="20.2" height="27.2" fill="#f43538" stroke="#1c1c1c" stroke-width="1"/>
<line x1="462.4" y1="474.6" x2="482.6" y2="474.6" stroke="#1c1c1c" stroke-width="1.25"/>
<circle cx="476.4" cy="454.4" r="2.1" fill="none" stroke="#333" stroke-width="1"/>
<circle cx="470.6" cy="459.4" r="2.1" fill="none" stroke="#333" stroke-width="1"/>
<circle cx="472.9" cy="464.9" r="2.1" fill="none" stroke="#333" stroke-width="1"/>
<circle cx="475.2" cy="483.9" r="2.1" fill="none" stroke="#333" stroke-width="1"/>
<circle cx="476.4" cy="490" r="2.1" fill="none" stroke="#333" stroke-width="1"/>
<line x1="497.5" y1="480.4" x2="497.5" y2="483" stroke="#333" stroke-width="1"/>
<line x1="497.5" y1="489.4" x2="497.5" y2="494.2" stroke="#333" stroke-width="1"/>
<rect x="487.4" y="483.0" width="20.2" height="6.4" fill="#f43538" stroke="#1c1c1c" stroke-width="1"/>
<line x1="487.4" y1="485.7" x2="507.6" y2="485.7" stroke="#1c1c1c" stroke-width="1.25"/>
<circle cx="492.1" cy="465.5" r="2.1" fill="none" stroke="#333" stroke-width="1"/>
<circle cx="497.4" cy="480.4" r="2.1" fill="none" stroke="#333" stroke-width="1"/>
<circle cx="492.6" cy="491.5" r="2.1" fill="none" stroke="#333" stroke-width="1"/>
<circle cx="495.3" cy="494.2" r="2.1" fill="none" stroke="#333" stroke-width="1"/>
<circle cx="494.8" cy="486.8" r="2.1" fill="none" stroke="#333" stroke-width="1"/>
<line x1="522.5" y1="465.5" x2="522.5" y2="476.1" stroke="#333" stroke-width="1"/>
<line x1="522.5" y1="491.5" x2="522.5" y2="493.7" stroke="#333" stroke-width="1"/>
<rect x="512.4" y="476.1" width="20.2" height="15.4" fill="#6b6b6b" stroke="#1c1c1c" stroke-width="1"/>
<line x1="512.4" y1="483" x2="532.6" y2="483" stroke="#1c1c1c" stroke-width="1.25"/>
<circle cx="524.5" cy="465.5" r="2.1" fill="none" stroke="#333" stroke-width="1"/>
<circle cx="519.7" cy="477.2" r="2.1" fill="none" stroke="#333" stroke-width="1"/>
<circle cx="523.7" cy="475.6" r="2.1" fill="none" stroke="#333" stroke-width="1"/>
<circle cx="517.6" cy="489.4" r="2.1" fill="none" stroke="#333" stroke-width="1"/>
<circle cx="520.8" cy="493.7" r="2.1" fill="none" stroke="#333" stroke-width="1"/>
<circle cx="522.9" cy="492.1" r="2.1" fill="none" stroke="#333" stroke-width="1"/>
<line x1="547.5" y1="474.5" x2="547.5" y2="479.5" stroke="#333" stroke-width="1"/>
<line x1="547.5" y1="489.4" x2="547.5" y2="492.6" stroke="#333" stroke-width="1"/>
<rect x="537.4" y="479.5" width="20.2" height="9.9" fill="#6b6b6b" stroke="#1c1c1c" stroke-width="1"/>
<line x1="537.4" y1="488.4" x2="557.6" y2="488.4" stroke="#1c1c1c" stroke-width="1.25"/>
<circle cx="541.5" cy="474.5" r="2.1" fill="none" stroke="#333" stroke-width="1"/>
<circle cx="542.8" cy="477.7" r="2.1" fill="none" stroke="#333" stroke-width="1"/>
<circle cx="549" cy="478.8" r="2.1" fill="none" stroke="#333" stroke-width="1"/>
<circle cx="550" cy="482.5" r="2.1" fill="none" stroke="#333" stroke-width="1"/>
<circle cx="545.8" cy="488.4" r="2.1" fill="none" stroke="#333" stroke-width="1"/>
<circle cx="543.6" cy="492.6" r="2.1" fill="none" stroke="#333" stroke-width="1"/>
<line x1="592" y1="492.6" x2="592" y2="493.1" stroke="#333" stroke-width="1"/>
<line x1="592" y1="495.8" x2="592" y2="499" stroke="#333" stroke-width="1"/>
<rect x="581.9" y="493.1" width="20.2" height="2.7" fill="#0f8a12" stroke="#1c1c1c" stroke-width="1"/>
<line x1="581.9" y1="494.5" x2="602.1" y2="494.5" stroke="#1c1c1c" stroke-width="1.25"/>
<circle cx="591.9" cy="486.8" r="2.1" fill="none" stroke="#333" stroke-width="1"/>
<circle cx="588.2" cy="492.6" r="2.1" fill="none" stroke="#333" stroke-width="1"/>
<circle cx="591.3" cy="492.6" r="2.1" fill="none" stroke="#333" stroke-width="1"/>
<circle cx="589.2" cy="499" r="2.1" fill="none" stroke="#333" stroke-width="1"/>
<circle cx="590.8" cy="495.8" r="2.1" fill="none" stroke="#333" stroke-width="1"/>
<line x1="617" y1="487.8" x2="617" y2="491.9" stroke="#333" stroke-width="1"/>
<line x1="617" y1="495.8" x2="617" y2="498.4" stroke="#333" stroke-width="1"/>
<rect x="606.9" y="491.9" width="20.2" height="3.9" fill="#0f8a12" stroke="#1c1c1c" stroke-width="1"/>
<line x1="606.9" y1="494" x2="627.1" y2="494" stroke="#1c1c1c" stroke-width="1.25"/>
<circle cx="612.1" cy="487.8" r="2.1" fill="none" stroke="#333" stroke-width="1"/>
<circle cx="619.3" cy="485.7" r="2.1" fill="none" stroke="#333" stroke-width="1"/>
<circle cx="616.9" cy="490.5" r="2.1" fill="none" stroke="#333" stroke-width="1"/>
<circle cx="614.7" cy="498.4" r="2.1" fill="none" stroke="#333" stroke-width="1"/>
<circle cx="619.5" cy="496.9" r="2.1" fill="none" stroke="#333" stroke-width="1"/>
<line x1="642" y1="452.8" x2="642" y2="463.2" stroke="#333" stroke-width="1"/>
<line x1="642" y1="489.1" x2="642" y2="493.1" stroke="#333" stroke-width="1"/>
<rect x="631.9" y="463.2" width="20.2" height="25.9" fill="#f43538" stroke="#1c1c1c" stroke-width="1"/>
<line x1="631.9" y1="482.5" x2="652.1" y2="482.5" stroke="#1c1c1c" stroke-width="1.25"/>
<circle cx="646.6" cy="452.5" r="2.1" fill="none" stroke="#333" stroke-width="1"/>
<circle cx="646.1" cy="457" r="2.1" fill="none" stroke="#333" stroke-width="1"/>
<circle cx="646.6" cy="480.9" r="2.1" fill="none" stroke="#333" stroke-width="1"/>
<circle cx="642.9" cy="483.6" r="2.1" fill="none" stroke="#333" stroke-width="1"/>
<circle cx="643.4" cy="492.1" r="2.1" fill="none" stroke="#333" stroke-width="1"/>
<circle cx="644" cy="493.1" r="2.1" fill="none" stroke="#333" stroke-width="1"/>
<line x1="667" y1="416.7" x2="667" y2="427.5" stroke="#333" stroke-width="1"/>
<line x1="667" y1="491.1" x2="667" y2="494.8" stroke="#333" stroke-width="1"/>
<rect x="656.9" y="427.5" width="20.2" height="63.6" fill="#f43538" stroke="#1c1c1c" stroke-width="1"/>
<line x1="656.9" y1="440.6" x2="677.1" y2="440.6" stroke="#1c1c1c" stroke-width="1.25"/>
<circle cx="667.2" cy="416.7" r="2.1" fill="none" stroke="#333" stroke-width="1"/>
<circle cx="670.9" cy="426.8" r="2.1" fill="none" stroke="#333" stroke-width="1"/>
<circle cx="670.2" cy="433.5" r="2.1" fill="none" stroke="#333" stroke-width="1"/>
<circle cx="662.9" cy="440.6" r="2.1" fill="none" stroke="#333" stroke-width="1"/>
<circle cx="671.4" cy="457.4" r="2.1" fill="none" stroke="#333" stroke-width="1"/>
<circle cx="667.5" cy="493.1" r="2.1" fill="none" stroke="#333" stroke-width="1"/>
<circle cx="667.5" cy="494.8" r="2.1" fill="none" stroke="#333" stroke-width="1"/>
<line x1="692" y1="393.5" x2="692" y2="429.2" stroke="#333" stroke-width="1"/>
<line x1="692" y1="468.4" x2="692" y2="484.4" stroke="#333" stroke-width="1"/>
<rect x="681.9" y="429.2" width="20.2" height="39.2" fill="#6b6b6b" stroke="#1c1c1c" stroke-width="1"/>
<line x1="681.9" y1="454.1" x2="702.1" y2="454.1" stroke="#1c1c1c" stroke-width="1.25"/>
<circle cx="696.1" cy="393.1" r="2.1" fill="none" stroke="#333" stroke-width="1"/>
<circle cx="695.4" cy="423.4" r="2.1" fill="none" stroke="#333" stroke-width="1"/>
<circle cx="693.8" cy="444.8" r="2.1" fill="none" stroke="#333" stroke-width="1"/>
<circle cx="688.7" cy="462.8" r="2.1" fill="none" stroke="#333" stroke-width="1"/>
<circle cx="692.7" cy="470.6" r="2.1" fill="none" stroke="#333" stroke-width="1"/>
<circle cx="686.5" cy="484.7" r="2.1" fill="none" stroke="#333" stroke-width="1"/>
<line x1="717" y1="398.2" x2="717" y2="434.7" stroke="#333" stroke-width="1"/>
<line x1="717" y1="474.3" x2="717" y2="478" stroke="#333" stroke-width="1"/>
<rect x="706.9" y="434.7" width="20.2" height="39.6" fill="#6b6b6b" stroke="#1c1c1c" stroke-width="1"/>
<line x1="706.9" y1="449.4" x2="727.1" y2="449.4" stroke="#1c1c1c" stroke-width="1.25"/>
<circle cx="719" cy="398.2" r="2.1" fill="none" stroke="#333" stroke-width="1"/>
<circle cx="721" cy="419.1" r="2.1" fill="none" stroke="#333" stroke-width="1"/>
<circle cx="716" cy="434.7" r="2.1" fill="none" stroke="#333" stroke-width="1"/>
<circle cx="714.6" cy="447" r="2.1" fill="none" stroke="#333" stroke-width="1"/>
<circle cx="717.7" cy="449" r="2.1" fill="none" stroke="#333" stroke-width="1"/>
<circle cx="714.3" cy="460" r="2.1" fill="none" stroke="#333" stroke-width="1"/>
<circle cx="714.3" cy="478" r="2.1" fill="none" stroke="#333" stroke-width="1"/>
<circle cx="720.7" cy="481" r="2.1" fill="none" stroke="#333" stroke-width="1"/>
<line x1="83" y1="689" x2="83" y2="689.2" stroke="#333" stroke-width="1"/>
<line x1="83" y1="690.8" x2="83" y2="691" stroke="#333" stroke-width="1"/>
<rect x="72.9" y="689.2" width="20.2" height="1.6" fill="#0f8a12" stroke="#1c1c1c" stroke-width="1"/>
<line x1="72.9" y1="690" x2="93.1" y2="690" stroke="#1c1c1c" stroke-width="1.25"/>
<circle cx="82.2" cy="690" r="2.1" fill="none" stroke="#333" stroke-width="1"/>
<circle cx="81" cy="691.3" r="2.1" fill="none" stroke="#333" stroke-width="1"/>
<circle cx="86.8" cy="690.6" r="2.1" fill="none" stroke="#333" stroke-width="1"/>
<circle cx="83.5" cy="689" r="2.1" fill="none" stroke="#333" stroke-width="1"/>
<line x1="108" y1="686.1" x2="108" y2="686.5" stroke="#333" stroke-width="1"/>
<line x1="108" y1="690.4" x2="108" y2="691.3" stroke="#333" stroke-width="1"/>
<rect x="97.9" y="686.5" width="20.2" height="3.9" fill="#0f8a12" stroke="#1c1c1c" stroke-width="1"/>
<line x1="97.9" y1="688.5" x2="118.1" y2="688.5" stroke="#1c1c1c" stroke-width="1.25"/>
<circle cx="108.1" cy="682.2" r="2.1" fill="none" stroke="#333" stroke-width="1"/>
<circle cx="106.8" cy="686.1" r="2.1" fill="none" stroke="#333" stroke-width="1"/>
<circle cx="110.1" cy="686.1" r="2.1" fill="none" stroke="#333" stroke-width="1"/>
<circle cx="104.2" cy="691.3" r="2.1" fill="none" stroke="#333" stroke-width="1"/>
<circle cx="112" cy="689.6" r="2.1" fill="none" stroke="#333" stroke-width="1"/>
<line x1="133" y1="690.3" x2="133" y2="690.5" stroke="#333" stroke-width="1"/>
<rect x="122.9" y="689.0" width="20.2" height="1.3" fill="#f43538" stroke="#1c1c1c" stroke-width="1"/>
<line x1="122.9" y1="689.6" x2="143.1" y2="689.6" stroke="#1c1c1c" stroke-width="1.25"/>
<circle cx="128.8" cy="691.3" r="2.1" fill="none" stroke="#333" stroke-width="1"/>
<circle cx="132.1" cy="689.1" r="2.1" fill="none" stroke="#333" stroke-width="1"/>
<circle cx="134" cy="689.6" r="2.1" fill="none" stroke="#333" stroke-width="1"/>
<line x1="158" y1="692.1" x2="158" y2="692.6" stroke="#333" stroke-width="1"/>
<rect x="147.9" y="679.1" width="20.2" height="13.0" fill="#f43538" stroke="#1c1c1c" stroke-width="1"/>
<line x1="147.9" y1="691.5" x2="168.1" y2="691.5" stroke="#1c1c1c" stroke-width="1.25"/>
<circle cx="155.6" cy="614.5" r="2.1" fill="none" stroke="#333" stroke-width="1"/>
<circle cx="155.5" cy="647.4" r="2.1" fill="none" stroke="#333" stroke-width="1"/>
<circle cx="155.8" cy="678.8" r="2.1" fill="none" stroke="#333" stroke-width="1"/>
<circle cx="156.8" cy="687.8" r="2.1" fill="none" stroke="#333" stroke-width="1"/>
<circle cx="155.8" cy="692.6" r="2.1" fill="none" stroke="#333" stroke-width="1"/>
<circle cx="159.5" cy="691" r="2.1" fill="none" stroke="#333" stroke-width="1"/>
<rect x="172.9" y="690.0" width="20.2" height="1.0" fill="#6b6b6b" stroke="#1c1c1c" stroke-width="1"/>
<line x1="172.9" y1="690.5" x2="193.1" y2="690.5" stroke="#1c1c1c" stroke-width="1.25"/>
<circle cx="180" cy="678.8" r="2.1" fill="none" stroke="#333" stroke-width="1"/>
<circle cx="179.1" cy="690" r="2.1" fill="none" stroke="#333" stroke-width="1"/>
<circle cx="182.9" cy="690" r="2.1" fill="none" stroke="#333" stroke-width="1"/>
<circle cx="181.3" cy="691" r="2.1" fill="none" stroke="#333" stroke-width="1"/>
<line x1="208" y1="659.1" x2="208" y2="670.3" stroke="#333" stroke-width="1"/>
<line x1="208" y1="684.6" x2="208" y2="689.4" stroke="#333" stroke-width="1"/>
<rect x="197.9" y="670.3" width="20.2" height="14.3" fill="#6b6b6b" stroke="#1c1c1c" stroke-width="1"/>
<line x1="197.9" y1="682.5" x2="218.1" y2="682.5" stroke="#1c1c1c" stroke-width="1.25"/>
<circle cx="206.5" cy="659.1" r="2.1" fill="none" stroke="#333" stroke-width="1"/>
<circle cx="211.5" cy="658.1" r="2.1" fill="none" stroke="#333" stroke-width="1"/>
<circle cx="205.2" cy="669.8" r="2.1" fill="none" stroke="#333" stroke-width="1"/>
<circle cx="208.9" cy="674.5" r="2.1" fill="none" stroke="#333" stroke-width="1"/>
<circle cx="211.9" cy="682" r="2.1" fill="none" stroke="#333" stroke-width="1"/>
<circle cx="204.1" cy="686.8" r="2.1" fill="none" stroke="#333" stroke-width="1"/>
<circle cx="205.7" cy="689.4" r="2.1" fill="none" stroke="#333" stroke-width="1"/>
<line x1="253" y1="689.9" x2="253" y2="690" stroke="#333" stroke-width="1"/>
<rect x="242.9" y="688.4" width="20.2" height="1.5" fill="#0f8a12" stroke="#1c1c1c" stroke-width="1"/>
<line x1="242.9" y1="689.1" x2="263.1" y2="689.1" stroke="#1c1c1c" stroke-width="1.25"/>
<circle cx="248.6" cy="687.3" r="2.1" fill="none" stroke="#333" stroke-width="1"/>
<circle cx="252.3" cy="686.2" r="2.1" fill="none" stroke="#333" stroke-width="1"/>
<circle cx="251.3" cy="691" r="2.1" fill="none" stroke="#333" stroke-width="1"/>
<circle cx="255" cy="691" r="2.1" fill="none" stroke="#333" stroke-width="1"/>
<circle cx="256.6" cy="688.4" r="2.1" fill="none" stroke="#333" stroke-width="1"/>
<rect x="267.9" y="688.6" width="20.2" height="1.6" fill="#0f8a12" stroke="#1c1c1c" stroke-width="1"/>
<line x1="267.9" y1="689.4" x2="288.1" y2="689.4" stroke="#1c1c1c" stroke-width="1.25"/>
<circle cx="277.3" cy="686.2" r="2.1" fill="none" stroke="#333" stroke-width="1"/>
<circle cx="273.6" cy="689.4" r="2.1" fill="none" stroke="#333" stroke-width="1"/>
<circle cx="277.9" cy="691.5" r="2.1" fill="none" stroke="#333" stroke-width="1"/>
<circle cx="282.6" cy="691.5" r="2.1" fill="none" stroke="#333" stroke-width="1"/>
<circle cx="275.7" cy="689" r="2.1" fill="none" stroke="#333" stroke-width="1"/>
<line x1="303" y1="688" x2="303" y2="688.1" stroke="#333" stroke-width="1"/>
<line x1="303" y1="689.7" x2="303" y2="689.8" stroke="#333" stroke-width="1"/>
<rect x="292.9" y="688.1" width="20.2" height="1.6" fill="#f43538" stroke="#1c1c1c" stroke-width="1"/>
<line x1="292.9" y1="688.9" x2="313.1" y2="688.9" stroke="#1c1c1c" stroke-width="1.25"/>
<circle cx="302.3" cy="685.2" r="2.1" fill="none" stroke="#333" stroke-width="1"/>
<circle cx="298.6" cy="690.5" r="2.1" fill="none" stroke="#333" stroke-width="1"/>
<circle cx="305.5" cy="690" r="2.1" fill="none" stroke="#333" stroke-width="1"/>
<circle cx="303.9" cy="688" r="2.1" fill="none" stroke="#333" stroke-width="1"/>
<rect x="317.9" y="681.9" width="20.2" height="8.9" fill="#f43538" stroke="#1c1c1c" stroke-width="1"/>
<line x1="317.9" y1="689" x2="338.1" y2="689" stroke="#1c1c1c" stroke-width="1.25"/>
<circle cx="323.5" cy="563.3" r="2.1" fill="none" stroke="#333" stroke-width="1"/>
<circle cx="322.1" cy="649.7" r="2.1" fill="none" stroke="#333" stroke-width="1"/>
<circle cx="328.5" cy="681" r="2.1" fill="none" stroke="#333" stroke-width="1"/>
<circle cx="332.2" cy="683.1" r="2.1" fill="none" stroke="#333" stroke-width="1"/>
<circle cx="322.6" cy="691.6" r="2.1" fill="none" stroke="#333" stroke-width="1"/>
<circle cx="326.9" cy="689" r="2.1" fill="none" stroke="#333" stroke-width="1"/>
<rect x="342.9" y="686.2" width="20.2" height="2.4" fill="#6b6b6b" stroke="#1c1c1c" stroke-width="1"/>
<line x1="342.9" y1="687.4" x2="363.1" y2="687.4" stroke="#1c1c1c" stroke-width="1.25"/>
<circle cx="354.5" cy="684.7" r="2.1" fill="none" stroke="#333" stroke-width="1"/>
<circle cx="347.6" cy="690" r="2.1" fill="none" stroke="#333" stroke-width="1"/>
<circle cx="350.8" cy="690" r="2.1" fill="none" stroke="#333" stroke-width="1"/>
<circle cx="352.4" cy="686.8" r="2.1" fill="none" stroke="#333" stroke-width="1"/>
<line x1="378" y1="663.8" x2="378" y2="674.1" stroke="#333" stroke-width="1"/>
<line x1="378" y1="689.5" x2="378" y2="690.6" stroke="#333" stroke-width="1"/>
<rect x="367.9" y="674.1" width="20.2" height="15.4" fill="#6b6b6b" stroke="#1c1c1c" stroke-width="1"/>
<line x1="367.9" y1="687.9" x2="388.1" y2="687.9" stroke="#1c1c1c" stroke-width="1.25"/>
<circle cx="374.6" cy="636.4" r="2.1" fill="none" stroke="#333" stroke-width="1"/>
<circle cx="374.7" cy="663.8" r="2.1" fill="none" stroke="#333" stroke-width="1"/>
<circle cx="375.2" cy="673.6" r="2.1" fill="none" stroke="#333" stroke-width="1"/>
<circle cx="375.8" cy="676.8" r="2.1" fill="none" stroke="#333" stroke-width="1"/>
<circle cx="372" cy="690.6" r="2.1" fill="none" stroke="#333" stroke-width="1"/>
<circle cx="378.4" cy="690.6" r="2.1" fill="none" stroke="#333" stroke-width="1"/>
<circle cx="381.6" cy="690.6" r="2.1" fill="none" stroke="#333" stroke-width="1"/>
<rect x="68.0" y="34.8" width="154.7" height="154.6" fill="none" stroke="#838383" stroke-width="1.4"/>
<rect x="237.8" y="34.8" width="154.7" height="154.6" fill="none" stroke="#838383" stroke-width="1.4"/>
<rect x="407.5" y="34.8" width="154.7" height="154.6" fill="none" stroke="#838383" stroke-width="1.4"/>
<rect x="577.2" y="34.8" width="154.7" height="154.6" fill="none" stroke="#838383" stroke-width="1.4"/>
<rect x="68.0" y="205.3" width="154.7" height="154.6" fill="none" stroke="#838383" stroke-width="1.4"/>
<rect x="237.8" y="205.3" width="154.7" height="154.6" fill="none" stroke="#838383" stroke-width="1.4"/>
<rect x="407.5" y="205.3" width="154.7" height="154.6" fill="none" stroke="#838383" stroke-width="1.4"/>
<rect x="577.2" y="205.3" width="154.7" height="154.6" fill="none" stroke="#838383" stroke-width="1.4"/>
<rect x="68.0" y="375.6" width="154.7" height="154.6" fill="none" stroke="#838383" stroke-width="1.4"/>
<rect x="237.8" y="375.6" width="154.7" height="154.6" fill="none" stroke="#838383" stroke-width="1.4"/>
<rect x="407.5" y="375.6" width="154.7" height="154.6" fill="none" stroke="#838383" stroke-width="1.4"/>
<rect x="577.2" y="375.6" width="154.7" height="154.6" fill="none" stroke="#838383" stroke-width="1.4"/>
<rect x="68.0" y="545.8" width="154.7" height="154.6" fill="none" stroke="#838383" stroke-width="1.4"/>
<rect x="237.8" y="545.8" width="154.7" height="154.6" fill="none" stroke="#838383" stroke-width="1.4"/>
<rect x="407.5" y="545.8" width="154.7" height="154.6" fill="none" stroke="#838383" stroke-width="1.4"/>
<rect x="577.2" y="545.8" width="154.7" height="154.6" fill="none" stroke="#838383" stroke-width="1.4"/>
<text x="484.9" y="627.9" text-anchor="middle" style="font-family:'Liberation Sans',sans-serif;font-size:15px" fill="#111">No data</text>
<text x="654.6" y="627.9" text-anchor="middle" style="font-family:'Liberation Sans',sans-serif;font-size:15px" fill="#111">No data</text>
<path d="M181.3,405.7V398.7H206.5V405.7" fill="none" stroke="#2a2a2a" stroke-width="1.4"/>
<path d="M194.00,390.50L194.00,394.00M194.00,390.50L197.03,392.25M194.00,390.50L190.97,392.25M194.00,390.50L194.00,387.00M194.00,390.50L190.97,388.75M194.00,390.50L197.03,388.75" stroke="#222" stroke-width="1.3" stroke-linecap="round"/><circle cx="194.00" cy="393.37" r="1.1" fill="#222"/><circle cx="196.49" cy="391.94" r="1.1" fill="#222"/><circle cx="191.51" cy="391.94" r="1.1" fill="#222"/><circle cx="194.00" cy="387.63" r="1.1" fill="#222"/><circle cx="191.51" cy="389.06" r="1.1" fill="#222"/><circle cx="196.49" cy="389.06" r="1.1" fill="#222"/>
<path d="M181.3,575.6V571.1H206.5V575.6" fill="none" stroke="#2a2a2a" stroke-width="1.4"/>
<path d="M188.60,562.10L188.60,565.60M188.60,562.10L191.63,563.85M188.60,562.10L185.57,563.85M188.60,562.10L188.60,558.60M188.60,562.10L185.57,560.35M188.60,562.10L191.63,560.35" stroke="#222" stroke-width="1.3" stroke-linecap="round"/><circle cx="188.60" cy="564.97" r="1.1" fill="#222"/><circle cx="191.09" cy="563.53" r="1.1" fill="#222"/><circle cx="186.11" cy="563.53" r="1.1" fill="#222"/><circle cx="188.60" cy="559.23" r="1.1" fill="#222"/><circle cx="186.11" cy="560.67" r="1.1" fill="#222"/><circle cx="191.09" cy="560.67" r="1.1" fill="#222"/>
<path d="M199.20,562.10L199.20,565.60M199.20,562.10L202.23,563.85M199.20,562.10L196.17,563.85M199.20,562.10L199.20,558.60M199.20,562.10L196.17,560.35M199.20,562.10L202.23,560.35" stroke="#222" stroke-width="1.3" stroke-linecap="round"/><circle cx="199.20" cy="564.97" r="1.1" fill="#222"/><circle cx="201.69" cy="563.53" r="1.1" fill="#222"/><circle cx="196.71" cy="563.53" r="1.1" fill="#222"/><circle cx="199.20" cy="559.23" r="1.1" fill="#222"/><circle cx="196.71" cy="560.67" r="1.1" fill="#222"/><circle cx="201.69" cy="560.67" r="1.1" fill="#222"/>
<text transform="translate(28.5,112.1) rotate(-90) scale(1.07,1)" x="0" y="0" text-anchor="middle" style="font-family:'Liberation Sans',sans-serif;font-size:15.8px" fill="#111">δ<tspan dy="-5" font-size="10.5">13</tspan><tspan dy="5">C (‰)</tspan></text>
<text transform="translate(28.5,282.6) rotate(-90) scale(1.07,1)" x="0" y="0" text-anchor="middle" style="font-family:'Liberation Sans',sans-serif;font-size:15.8px" fill="#111">δ<tspan dy="-5" font-size="10.5">15</tspan><tspan dy="5">N (‰)</tspan></text>
<text transform="translate(28.5,452.9) rotate(-90) scale(1.07,1)" x="0" y="0" text-anchor="middle" style="font-family:'Liberation Sans',sans-serif;font-size:15.8px" fill="#111">C:N ratio</text>
<text transform="translate(28.5,623.1) rotate(-90) scale(1.07,1)" x="0" y="0" text-anchor="middle" style="font-family:'Liberation Sans',sans-serif;font-size:15.8px" fill="#111">Mass (mg dm<tspan dy="-5" font-size="10.5">−3</tspan><tspan dy="5">)</tspan></text>
<text transform="translate(78.6,707.9) rotate(-55)" x="0" y="0" text-anchor="end" dominant-baseline="hanging" style="font-family:'Liberation Sans',sans-serif;font-size:13.8px" fill="#111">Pre</text>
<text transform="translate(103.6,707.9) rotate(-55)" x="0" y="0" text-anchor="end" dominant-baseline="hanging" style="font-family:'Liberation Sans',sans-serif;font-size:13.8px" fill="#111">Post</text>
<text transform="translate(128.6,707.9) rotate(-55)" x="0" y="0" text-anchor="end" dominant-baseline="hanging" style="font-family:'Liberation Sans',sans-serif;font-size:13.8px" fill="#111">Pre</text>
<text transform="translate(153.6,707.9) rotate(-55)" x="0" y="0" text-anchor="end" dominant-baseline="hanging" style="font-family:'Liberation Sans',sans-serif;font-size:13.8px" fill="#111">Post</text>
<text transform="translate(178.6,707.9) rotate(-55)" x="0" y="0" text-anchor="end" dominant-baseline="hanging" style="font-family:'Liberation Sans',sans-serif;font-size:13.8px" fill="#111">Pre</text>
<text transform="translate(203.6,707.9) rotate(-55)" x="0" y="0" text-anchor="end" dominant-baseline="hanging" style="font-family:'Liberation Sans',sans-serif;font-size:13.8px" fill="#111">Post</text>
<line x1="67.0" y1="741" x2="115.0" y2="741" stroke="#505050" stroke-width="2"/>
<text x="91.0" y="757.8" text-anchor="middle" style="font-family:'Liberation Sans',sans-serif;font-size:13.7px;font-weight:bold" fill="#111">Surface</text>
<line x1="121.0" y1="741" x2="168.5" y2="741" stroke="#505050" stroke-width="2"/>
<text x="144.7" y="757.8" text-anchor="middle" style="font-family:'Liberation Sans',sans-serif;font-size:13.7px;font-weight:bold" fill="#111">Middle</text>
<line x1="174.5" y1="741" x2="222.0" y2="741" stroke="#505050" stroke-width="2"/>
<text x="198.3" y="757.8" text-anchor="middle" style="font-family:'Liberation Sans',sans-serif;font-size:13.7px;font-weight:bold" fill="#111">Bottom</text>
<text transform="translate(248.4,707.9) rotate(-55)" x="0" y="0" text-anchor="end" dominant-baseline="hanging" style="font-family:'Liberation Sans',sans-serif;font-size:13.8px" fill="#111">Pre</text>
<text transform="translate(273.4,707.9) rotate(-55)" x="0" y="0" text-anchor="end" dominant-baseline="hanging" style="font-family:'Liberation Sans',sans-serif;font-size:13.8px" fill="#111">Post</text>
<text transform="translate(298.4,707.9) rotate(-55)" x="0" y="0" text-anchor="end" dominant-baseline="hanging" style="font-family:'Liberation Sans',sans-serif;font-size:13.8px" fill="#111">Pre</text>
<text transform="translate(323.4,707.9) rotate(-55)" x="0" y="0" text-anchor="end" dominant-baseline="hanging" style="font-family:'Liberation Sans',sans-serif;font-size:13.8px" fill="#111">Post</text>
<text transform="translate(348.4,707.9) rotate(-55)" x="0" y="0" text-anchor="end" dominant-baseline="hanging" style="font-family:'Liberation Sans',sans-serif;font-size:13.8px" fill="#111">Pre</text>
<text transform="translate(373.4,707.9) rotate(-55)" x="0" y="0" text-anchor="end" dominant-baseline="hanging" style="font-family:'Liberation Sans',sans-serif;font-size:13.8px" fill="#111">Post</text>
<line x1="236.8" y1="741" x2="284.8" y2="741" stroke="#505050" stroke-width="2"/>
<text x="260.8" y="757.8" text-anchor="middle" style="font-family:'Liberation Sans',sans-serif;font-size:13.7px;font-weight:bold" fill="#111">Surface</text>
<line x1="290.8" y1="741" x2="338.3" y2="741" stroke="#505050" stroke-width="2"/>
<text x="314.5" y="757.8" text-anchor="middle" style="font-family:'Liberation Sans',sans-serif;font-size:13.7px;font-weight:bold" fill="#111">Middle</text>
<line x1="344.3" y1="741" x2="391.8" y2="741" stroke="#505050" stroke-width="2"/>
<text x="368.1" y="757.8" text-anchor="middle" style="font-family:'Liberation Sans',sans-serif;font-size:13.7px;font-weight:bold" fill="#111">Bottom</text>
<text transform="translate(418.1,707.9) rotate(-55)" x="0" y="0" text-anchor="end" dominant-baseline="hanging" style="font-family:'Liberation Sans',sans-serif;font-size:13.8px" fill="#111">Pre</text>
<text transform="translate(443.1,707.9) rotate(-55)" x="0" y="0" text-anchor="end" dominant-baseline="hanging" style="font-family:'Liberation Sans',sans-serif;font-size:13.8px" fill="#111">Post</text>
<text transform="translate(468.1,707.9) rotate(-55)" x="0" y="0" text-anchor="end" dominant-baseline="hanging" style="font-family:'Liberation Sans',sans-serif;font-size:13.8px" fill="#111">Pre</text>
<text transform="translate(493.1,707.9) rotate(-55)" x="0" y="0" text-anchor="end" dominant-baseline="hanging" style="font-family:'Liberation Sans',sans-serif;font-size:13.8px" fill="#111">Post</text>
<text transform="translate(518.1,707.9) rotate(-55)" x="0" y="0" text-anchor="end" dominant-baseline="hanging" style="font-family:'Liberation Sans',sans-serif;font-size:13.8px" fill="#111">Pre</text>
<text transform="translate(543.1,707.9) rotate(-55)" x="0" y="0" text-anchor="end" dominant-baseline="hanging" style="font-family:'Liberation Sans',sans-serif;font-size:13.8px" fill="#111">Post</text>
<line x1="406.5" y1="741" x2="454.5" y2="741" stroke="#505050" stroke-width="2"/>
<text x="430.5" y="757.8" text-anchor="middle" style="font-family:'Liberation Sans',sans-serif;font-size:13.7px;font-weight:bold" fill="#111">Surface</text>
<line x1="460.5" y1="741" x2="508.0" y2="741" stroke="#505050" stroke-width="2"/>
<text x="484.2" y="757.8" text-anchor="middle" style="font-family:'Liberation Sans',sans-serif;font-size:13.7px;font-weight:bold" fill="#111">Middle</text>
<line x1="514.0" y1="741" x2="561.5" y2="741" stroke="#505050" stroke-width="2"/>
<text x="537.8" y="757.8" text-anchor="middle" style="font-family:'Liberation Sans',sans-serif;font-size:13.7px;font-weight:bold" fill="#111">Bottom</text>
<text transform="translate(587.8,707.9) rotate(-55)" x="0" y="0" text-anchor="end" dominant-baseline="hanging" style="font-family:'Liberation Sans',sans-serif;font-size:13.8px" fill="#111">Pre</text>
<text transform="translate(612.8,707.9) rotate(-55)" x="0" y="0" text-anchor="end" dominant-baseline="hanging" style="font-family:'Liberation Sans',sans-serif;font-size:13.8px" fill="#111">Post</text>
<text transform="translate(637.8,707.9) rotate(-55)" x="0" y="0" text-anchor="end" dominant-baseline="hanging" style="font-family:'Liberation Sans',sans-serif;font-size:13.8px" fill="#111">Pre</text>
<text transform="translate(662.8,707.9) rotate(-55)" x="0" y="0" text-anchor="end" dominant-baseline="hanging" style="font-family:'Liberation Sans',sans-serif;font-size:13.8px" fill="#111">Post</text>
<text transform="translate(687.8,707.9) rotate(-55)" x="0" y="0" text-anchor="end" dominant-baseline="hanging" style="font-family:'Liberation Sans',sans-serif;font-size:13.8px" fill="#111">Pre</text>
<text transform="translate(712.8,707.9) rotate(-55)" x="0" y="0" text-anchor="end" dominant-baseline="hanging" style="font-family:'Liberation Sans',sans-serif;font-size:13.8px" fill="#111">Post</text>
<line x1="576.2" y1="741" x2="624.2" y2="741" stroke="#505050" stroke-width="2"/>
<text x="600.2" y="757.8" text-anchor="middle" style="font-family:'Liberation Sans',sans-serif;font-size:13.7px;font-weight:bold" fill="#111">Surface</text>
<line x1="630.2" y1="741" x2="677.7" y2="741" stroke="#505050" stroke-width="2"/>
<text x="653.9" y="757.8" text-anchor="middle" style="font-family:'Liberation Sans',sans-serif;font-size:13.7px;font-weight:bold" fill="#111">Middle</text>
<line x1="683.7" y1="741" x2="731.2" y2="741" stroke="#505050" stroke-width="2"/>
<text x="707.5" y="757.8" text-anchor="middle" style="font-family:'Liberation Sans',sans-serif;font-size:13.7px;font-weight:bold" fill="#111">Bottom</text>
</svg>
</body></html>
